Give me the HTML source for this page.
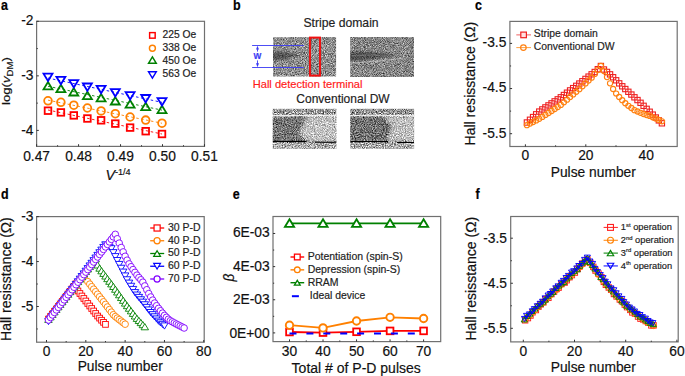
<!DOCTYPE html><html><head><meta charset="utf-8"><style>html,body{margin:0;padding:0;background:#fff;overflow:hidden}svg{display:block}</style></head><body><svg width="685" height="376" viewBox="0 0 685 376" font-family="Liberation Sans, sans-serif">
<rect width="685" height="376" fill="#fff"/>
<text transform="translate(0.9,9.8) scale(1,1.1)" font-size="12.5" text-anchor="start" fill="#000" stroke="#000" stroke-width="0.18" font-weight="bold">a</text>
<text transform="translate(232.9,9.6) scale(1,1.1)" font-size="12.5" text-anchor="start" fill="#000" stroke="#000" stroke-width="0.18" font-weight="bold">b</text>
<text transform="translate(475,9.7) scale(1,1.1)" font-size="12.5" text-anchor="start" fill="#000" stroke="#000" stroke-width="0.18" font-weight="bold">c</text>
<text transform="translate(1.1,199) scale(1,1.1)" font-size="12.5" text-anchor="start" fill="#000" stroke="#000" stroke-width="0.18" font-weight="bold">d</text>
<text transform="translate(232.8,199) scale(1,1.1)" font-size="12.5" text-anchor="start" fill="#000" stroke="#000" stroke-width="0.18" font-weight="bold">e</text>
<text transform="translate(475.5,198.8) scale(1,1.1)" font-size="12.5" text-anchor="start" fill="#000" stroke="#000" stroke-width="0.18" font-weight="bold">f</text>
<rect x="36.6" y="21.3" width="167.9" height="125.1" fill="none" stroke="#707070" stroke-width="1.2"/>
<line x1="36.6" y1="146.4" x2="36.6" y2="144.2" stroke="#333" stroke-width="1"/><line x1="78.57" y1="146.4" x2="78.57" y2="144.2" stroke="#333" stroke-width="1"/><line x1="120.54" y1="146.4" x2="120.54" y2="144.2" stroke="#333" stroke-width="1"/><line x1="162.51" y1="146.4" x2="162.51" y2="144.2" stroke="#333" stroke-width="1"/><line x1="204.48" y1="146.4" x2="204.48" y2="144.2" stroke="#333" stroke-width="1"/>
<line x1="57.59" y1="146.4" x2="57.59" y2="145.2" stroke="#333" stroke-width="1"/><line x1="99.56" y1="146.4" x2="99.56" y2="145.2" stroke="#333" stroke-width="1"/><line x1="141.53" y1="146.4" x2="141.53" y2="145.2" stroke="#333" stroke-width="1"/><line x1="183.5" y1="146.4" x2="183.5" y2="145.2" stroke="#333" stroke-width="1"/>
<line x1="36.6" y1="21.3" x2="38.8" y2="21.3" stroke="#333" stroke-width="1"/><line x1="36.6" y1="75.85" x2="38.8" y2="75.85" stroke="#333" stroke-width="1"/><line x1="36.6" y1="130.4" x2="38.8" y2="130.4" stroke="#333" stroke-width="1"/>
<line x1="36.6" y1="48.58" x2="37.8" y2="48.58" stroke="#333" stroke-width="1"/><line x1="36.6" y1="103.12" x2="37.8" y2="103.12" stroke="#333" stroke-width="1"/>
<text transform="translate(36.6,160.9) scale(1,1.03)" font-size="13.8" text-anchor="middle" fill="#111" stroke="#111" stroke-width="0.18" >0.47</text>
<text transform="translate(78.57,160.9) scale(1,1.03)" font-size="13.8" text-anchor="middle" fill="#111" stroke="#111" stroke-width="0.18" >0.48</text>
<text transform="translate(120.54,160.9) scale(1,1.03)" font-size="13.8" text-anchor="middle" fill="#111" stroke="#111" stroke-width="0.18" >0.49</text>
<text transform="translate(162.51,160.9) scale(1,1.03)" font-size="13.8" text-anchor="middle" fill="#111" stroke="#111" stroke-width="0.18" >0.50</text>
<text transform="translate(204.48,160.9) scale(1,1.03)" font-size="13.8" text-anchor="middle" fill="#111" stroke="#111" stroke-width="0.18" >0.51</text>
<text transform="translate(33.5,25.2) scale(1,1.03)" font-size="13.8" text-anchor="end" fill="#111" stroke="#111" stroke-width="0.18" >-2</text>
<text transform="translate(33.5,80.1) scale(1,1.03)" font-size="13.8" text-anchor="end" fill="#111" stroke="#111" stroke-width="0.18" >-3</text>
<text transform="translate(33.5,134.8) scale(1,1.03)" font-size="13.8" text-anchor="end" fill="#111" stroke="#111" stroke-width="0.18" >-4</text>
<line x1="48" y1="109.99" x2="162" y2="134.02" stroke="#ff0000" stroke-width="0.9" stroke-dasharray="2.5 2.5"/>
<line x1="48" y1="100.16" x2="162" y2="123.26" stroke="#ff8000" stroke-width="0.9" stroke-dasharray="2.5 2.5"/>
<line x1="48" y1="86.28" x2="162" y2="110.13" stroke="#008000" stroke-width="0.9" stroke-dasharray="2.5 2.5"/>
<line x1="48" y1="78.06" x2="162" y2="102.37" stroke="#0000ff" stroke-width="0.9" stroke-dasharray="2.5 2.5"/>
<rect x="44.7" y="107.4" width="6.6" height="6.6" fill="none" stroke="#ff0000" stroke-width="1.8"/>
<rect x="57.6" y="109.1" width="6.6" height="6.6" fill="none" stroke="#ff0000" stroke-width="1.8"/>
<rect x="70.5" y="112.1" width="6.6" height="6.6" fill="none" stroke="#ff0000" stroke-width="1.8"/>
<rect x="84.1" y="115.2" width="6.6" height="6.6" fill="none" stroke="#ff0000" stroke-width="1.8"/>
<rect x="97.8" y="117" width="6.6" height="6.6" fill="none" stroke="#ff0000" stroke-width="1.8"/>
<rect x="112" y="120.3" width="6.6" height="6.6" fill="none" stroke="#ff0000" stroke-width="1.8"/>
<rect x="126.8" y="124.3" width="6.6" height="6.6" fill="none" stroke="#ff0000" stroke-width="1.8"/>
<rect x="142.4" y="127.9" width="6.6" height="6.6" fill="none" stroke="#ff0000" stroke-width="1.8"/>
<rect x="158.7" y="130.7" width="6.6" height="6.6" fill="none" stroke="#ff0000" stroke-width="1.8"/>
<circle cx="48" cy="100.8" r="3.85" fill="none" stroke="#ff8000" stroke-width="1.8"/>
<circle cx="60.9" cy="102.3" r="3.85" fill="none" stroke="#ff8000" stroke-width="1.8"/>
<circle cx="73.8" cy="105.2" r="3.85" fill="none" stroke="#ff8000" stroke-width="1.8"/>
<circle cx="87.4" cy="108" r="3.85" fill="none" stroke="#ff8000" stroke-width="1.8"/>
<circle cx="101.1" cy="110.9" r="3.85" fill="none" stroke="#ff8000" stroke-width="1.8"/>
<circle cx="115.3" cy="113.7" r="3.85" fill="none" stroke="#ff8000" stroke-width="1.8"/>
<circle cx="130.1" cy="117" r="3.85" fill="none" stroke="#ff8000" stroke-width="1.8"/>
<circle cx="145.7" cy="120.1" r="3.85" fill="none" stroke="#ff8000" stroke-width="1.8"/>
<circle cx="162" cy="123.2" r="3.85" fill="none" stroke="#ff8000" stroke-width="1.8"/>
<path d="M48,81.91 L52.47,89.29 L43.53,89.29 Z" fill="none" stroke="#008000" stroke-width="1.8" stroke-linejoin="miter"/>
<path d="M60.9,84.81 L65.37,92.19 L56.43,92.19 Z" fill="none" stroke="#008000" stroke-width="1.8" stroke-linejoin="miter"/>
<path d="M73.8,88.11 L78.27,95.49 L69.33,95.49 Z" fill="none" stroke="#008000" stroke-width="1.8" stroke-linejoin="miter"/>
<path d="M87.4,91.71 L91.87,99.09 L82.93,99.09 Z" fill="none" stroke="#008000" stroke-width="1.8" stroke-linejoin="miter"/>
<path d="M101.1,94.01 L105.57,101.39 L96.63,101.39 Z" fill="none" stroke="#008000" stroke-width="1.8" stroke-linejoin="miter"/>
<path d="M115.3,97.11 L119.77,104.49 L110.83,104.49 Z" fill="none" stroke="#008000" stroke-width="1.8" stroke-linejoin="miter"/>
<path d="M130.1,100.21 L134.57,107.59 L125.63,107.59 Z" fill="none" stroke="#008000" stroke-width="1.8" stroke-linejoin="miter"/>
<path d="M145.7,102.71 L150.17,110.09 L141.23,110.09 Z" fill="none" stroke="#008000" stroke-width="1.8" stroke-linejoin="miter"/>
<path d="M162,105.71 L166.47,113.09 L157.53,113.09 Z" fill="none" stroke="#008000" stroke-width="1.8" stroke-linejoin="miter"/>
<path d="M48,81.09 L52.47,73.71 L43.53,73.71 Z" fill="none" stroke="#0000ff" stroke-width="1.8" stroke-linejoin="miter"/>
<path d="M60.9,84.19 L65.37,76.81 L56.43,76.81 Z" fill="none" stroke="#0000ff" stroke-width="1.8" stroke-linejoin="miter"/>
<path d="M73.8,87.49 L78.27,80.11 L69.33,80.11 Z" fill="none" stroke="#0000ff" stroke-width="1.8" stroke-linejoin="miter"/>
<path d="M87.4,90.89 L91.87,83.51 L82.93,83.51 Z" fill="none" stroke="#0000ff" stroke-width="1.8" stroke-linejoin="miter"/>
<path d="M101.1,93.19 L105.57,85.81 L96.63,85.81 Z" fill="none" stroke="#0000ff" stroke-width="1.8" stroke-linejoin="miter"/>
<path d="M115.3,96.49 L119.77,89.11 L110.83,89.11 Z" fill="none" stroke="#0000ff" stroke-width="1.8" stroke-linejoin="miter"/>
<path d="M130.1,99.49 L134.57,92.11 L125.63,92.11 Z" fill="none" stroke="#0000ff" stroke-width="1.8" stroke-linejoin="miter"/>
<path d="M145.7,102.39 L150.17,95.01 L141.23,95.01 Z" fill="none" stroke="#0000ff" stroke-width="1.8" stroke-linejoin="miter"/>
<path d="M162,105.49 L166.47,98.11 L157.53,98.11 Z" fill="none" stroke="#0000ff" stroke-width="1.8" stroke-linejoin="miter"/>
<rect x="149.62" y="32.62" width="5.55" height="5.55" fill="none" stroke="#ff0000" stroke-width="1.45"/>
<text transform="translate(162.6,38) scale(1,1.1)" font-size="10.3" text-anchor="start" fill="#222" stroke="#222" stroke-width="0.18" >225 Oe</text>
<circle cx="152.4" cy="48.3" r="2.98" fill="none" stroke="#ff8000" stroke-width="1.45"/>
<text transform="translate(162.6,51.1) scale(1,1.1)" font-size="10.3" text-anchor="start" fill="#222" stroke="#222" stroke-width="0.18" >338 Oe</text>
<path d="M152.4,56.9 L156.27,63.3 L148.53,63.3 Z" fill="none" stroke="#008000" stroke-width="1.45" stroke-linejoin="miter"/>
<text transform="translate(162.6,64.2) scale(1,1.1)" font-size="10.3" text-anchor="start" fill="#222" stroke="#222" stroke-width="0.18" >450 Oe</text>
<path d="M152.4,78.2 L156.27,71.8 L148.53,71.8 Z" fill="none" stroke="#0000ff" stroke-width="1.45" stroke-linejoin="miter"/>
<text transform="translate(162.6,77.3) scale(1,1.1)" font-size="10.3" text-anchor="start" fill="#222" stroke="#222" stroke-width="0.18" >563 Oe</text>
<text transform="translate(9.9,81) scale(1,1.12) rotate(-90)" font-size="11.8" text-anchor="middle" fill="#111" stroke="#111" stroke-width="0.18">log(<tspan font-style="italic">v</tspan><tspan font-size="8.6" dy="3.0">DM</tspan><tspan dy="-3.0">)</tspan></text>
<text x="105.4" y="179.7" font-size="14.3" fill="#111" stroke="#111" stroke-width="0.18"><tspan font-style="italic">V</tspan><tspan font-size="9.1" dy="-5">-1/4</tspan></text>
<defs><filter id="n1" x="0" y="0" width="1" height="1" color-interpolation-filters="sRGB"><feTurbulence type="fractalNoise" baseFrequency="1.1" numOctaves="2" seed="3"/><feColorMatrix type="matrix" values="1.05 0 0 0 0.03  1.05 0 0 0 0.03  1.05 0 0 0 0.03  0 0 0 0 1"/><feComposite in2="SourceAlpha" operator="in"/></filter><filter id="n2" x="0" y="0" width="1" height="1" color-interpolation-filters="sRGB"><feTurbulence type="fractalNoise" baseFrequency="1.1" numOctaves="2" seed="7"/><feColorMatrix type="matrix" values="1.05 0 0 0 0.0  1.05 0 0 0 0.0  1.05 0 0 0 0.0  0 0 0 0 1"/><feComposite in2="SourceAlpha" operator="in"/></filter><filter id="n3" x="0" y="0" width="1" height="1" color-interpolation-filters="sRGB"><feTurbulence type="fractalNoise" baseFrequency="0.9" numOctaves="2" seed="11"/><feColorMatrix type="matrix" values="1.6 0 0 0 -0.2  1.6 0 0 0 -0.2  1.6 0 0 0 -0.2  0 0 0 0 1"/><feComposite in2="SourceAlpha" operator="in"/></filter><filter id="n4" x="0" y="0" width="1" height="1" color-interpolation-filters="sRGB"><feTurbulence type="fractalNoise" baseFrequency="0.9" numOctaves="2" seed="5"/><feColorMatrix type="matrix" values="1.6 0 0 0 -0.22  1.6 0 0 0 -0.22  1.6 0 0 0 -0.22  0 0 0 0 1"/><feComposite in2="SourceAlpha" operator="in"/></filter><filter id="bl1" x="-50%" y="-50%" width="200%" height="200%"><feGaussianBlur stdDeviation="1.6"/></filter><filter id="bl2" x="-50%" y="-50%" width="200%" height="200%"><feGaussianBlur stdDeviation="0.8"/></filter><filter id="bl3" x="-50%" y="-50%" width="200%" height="200%"><feGaussianBlur stdDeviation="0.9"/></filter><clipPath id="c3"><rect x="272.7" y="108.8" width="63.7" height="40.1"/></clipPath><clipPath id="c4"><rect x="350.2" y="108.8" width="63.9" height="40.1"/></clipPath><clipPath id="c1"><rect x="273" y="37.1" width="63.1" height="39.4"/></clipPath><clipPath id="c2"><rect x="350.2" y="37" width="63.8" height="40"/></clipPath></defs>
<rect x="273" y="37.1" width="63.1" height="39.4" fill="#000" filter="url(#n1)"/>
<rect x="350.2" y="37" width="63.8" height="40" fill="#000" filter="url(#n2)"/>
<rect x="272.7" y="108.8" width="63.7" height="40.1" fill="#000" filter="url(#n3)"/>
<rect x="350.2" y="108.8" width="63.9" height="40.1" fill="#000" filter="url(#n4)"/>
<g clip-path="url(#c1)"><path d="M272,52 C280,50.5 290,52 299,55.5 C290,58.5 280,60 272,60 Z" fill="#1a1a1a" opacity="0.5" filter="url(#bl3)"/></g>
<g clip-path="url(#c2)"><path d="M349,52 C362,51 380,52.5 397,54.8 C384,57.5 366,60.5 349,61 Z" fill="#1a1a1a" opacity="0.5" filter="url(#bl2)"/><path d="M352,55.5 C365,55 378,55.2 390,55.3" stroke="#aaa" stroke-width="1" fill="none" opacity="0.35"/><path d="M352,63 C370,62 390,60 405,58" stroke="#ddd" stroke-width="1.2" fill="none" opacity="0.5"/></g>
<g clip-path="url(#c3)"><path d="M272,116.5 L310,116.5 L303,126 L298,134 L306,141 L272,141 Z" fill="#1a1a1a" opacity="0.3" filter="url(#bl1)"/><path d="M306,116.5 L337,116.5 L337,141 L308,141 L300,134 Z" fill="#fff" opacity="0.4" filter="url(#bl1)"/><rect x="272" y="143" width="66" height="7" fill="#fff" opacity="0.2"/><rect x="272" y="114.8" width="66" height="1.5" fill="#fff" opacity="0.85"/><line x1="272.7" y1="141.4" x2="306.5" y2="141.4" stroke="#000" stroke-width="1.1"/><line x1="315" y1="142.3" x2="336.4" y2="142.3" stroke="#000" stroke-width="1.1"/></g>
<g clip-path="url(#c4)"><path d="M350,116.5 L384,116.5 L392,127 L386,137 L388,141 L350,141 Z" fill="#1a1a1a" opacity="0.3" filter="url(#bl1)"/><path d="M384,116.5 L415,116.5 L415,141 L388,141 L392,127 Z" fill="#fff" opacity="0.4" filter="url(#bl1)"/><rect x="350" y="143" width="66" height="7" fill="#fff" opacity="0.2"/><rect x="350" y="114.8" width="66" height="1.5" fill="#fff" opacity="0.8"/><line x1="350.2" y1="141.5" x2="388" y2="141.5" stroke="#000" stroke-width="1.1"/><line x1="397" y1="142.5" x2="414.1" y2="142.5" stroke="#000" stroke-width="1.1"/></g>
<rect x="310" y="37.6" width="10" height="38" fill="none" stroke="#f01010" stroke-width="2"/>
<line x1="252.1" y1="45.5" x2="303.8" y2="45.5" stroke="#3a3af4" stroke-width="0.9"/>
<line x1="252.1" y1="67.5" x2="303.8" y2="67.5" stroke="#3a3af4" stroke-width="0.9"/>
<line x1="257.5" y1="48" x2="257.5" y2="51.6" stroke="#3a3af4" stroke-width="0.9"/>
<line x1="257.5" y1="60.4" x2="257.5" y2="64" stroke="#3a3af4" stroke-width="0.9"/>
<path d="M256,49.6 L257.5,45.7 L259,49.6 Z M256,63.2 L257.5,67.3 L259,63.2 Z" fill="#3a3af4"/>
<text transform="translate(257.5,59.2) scale(1,0.98)" font-size="8.3" text-anchor="middle" fill="#3a3af4" stroke="#3a3af4" stroke-width="0.18" font-weight="bold">W</text>
<text transform="translate(303.4,27) scale(1,1.03)" font-size="12.2" text-anchor="start" fill="#222" stroke="#222" stroke-width="0.18" >Stripe domain</text>
<text transform="translate(252.7,88.3) scale(1,0.92)" font-size="11.1" text-anchor="start" fill="#ff1a1a" stroke="#ff1a1a" stroke-width="0.18" >Hall detection terminal</text>
<text transform="translate(296.3,103) scale(1,1.03)" font-size="12" text-anchor="start" fill="#222" stroke="#222" stroke-width="0.18" >Conventional DW</text>
<rect x="509.9" y="21.4" width="167.3" height="125.1" fill="none" stroke="#707070" stroke-width="1.2"/>
<line x1="525.4" y1="146.5" x2="525.4" y2="144.3" stroke="#333" stroke-width="1"/><line x1="585.8" y1="146.5" x2="585.8" y2="144.3" stroke="#333" stroke-width="1"/><line x1="646.2" y1="146.5" x2="646.2" y2="144.3" stroke="#333" stroke-width="1"/>
<line x1="555.6" y1="146.5" x2="555.6" y2="145.3" stroke="#333" stroke-width="1"/><line x1="616" y1="146.5" x2="616" y2="145.3" stroke="#333" stroke-width="1"/>
<line x1="509.9" y1="43.4" x2="512.1" y2="43.4" stroke="#333" stroke-width="1"/><line x1="509.9" y1="88.55" x2="512.1" y2="88.55" stroke="#333" stroke-width="1"/><line x1="509.9" y1="133.7" x2="512.1" y2="133.7" stroke="#333" stroke-width="1"/>
<line x1="509.9" y1="65.97" x2="511.1" y2="65.97" stroke="#333" stroke-width="1"/><line x1="509.9" y1="111.12" x2="511.1" y2="111.12" stroke="#333" stroke-width="1"/>
<text transform="translate(525.4,160.4) scale(1,1.03)" font-size="13.8" text-anchor="middle" fill="#111" stroke="#111" stroke-width="0.18" >0</text>
<text transform="translate(585.8,160.4) scale(1,1.03)" font-size="13.8" text-anchor="middle" fill="#111" stroke="#111" stroke-width="0.18" >20</text>
<text transform="translate(646.2,160.4) scale(1,1.03)" font-size="13.8" text-anchor="middle" fill="#111" stroke="#111" stroke-width="0.18" >40</text>
<text transform="translate(506.3,47.3) scale(1,1.03)" font-size="13.8" text-anchor="end" fill="#111" stroke="#111" stroke-width="0.18" >-3.5</text>
<text transform="translate(506.3,92.45) scale(1,1.03)" font-size="13.8" text-anchor="end" fill="#111" stroke="#111" stroke-width="0.18" >-4.5</text>
<text transform="translate(506.3,137.6) scale(1,1.03)" font-size="13.8" text-anchor="end" fill="#111" stroke="#111" stroke-width="0.18" >-5.5</text>
<text transform="translate(474.5,83.6) scale(1,1.02) rotate(-90)" font-size="13.8" text-anchor="middle" fill="#111" stroke="#111" stroke-width="0.18">Hall resisstance (<tspan font-size="14.8">Ω</tspan>)</text>
<text transform="translate(593.3,176.7) scale(1,1.0)" font-size="13.8" text-anchor="middle" fill="#111" stroke="#111" stroke-width="0.18" >Pulse number</text>
<rect x="524.26" y="119.85" width="5.3" height="5.3" fill="none" stroke="#ee2020" stroke-width="1.1"/>
<rect x="527.34" y="117.12" width="5.3" height="5.3" fill="none" stroke="#ee2020" stroke-width="1.1"/>
<rect x="530.43" y="114.39" width="5.3" height="5.3" fill="none" stroke="#ee2020" stroke-width="1.1"/>
<rect x="533.51" y="111.66" width="5.3" height="5.3" fill="none" stroke="#ee2020" stroke-width="1.1"/>
<rect x="536.59" y="108.93" width="5.3" height="5.3" fill="none" stroke="#ee2020" stroke-width="1.1"/>
<rect x="539.67" y="106.77" width="5.3" height="5.3" fill="none" stroke="#ee2020" stroke-width="1.1"/>
<rect x="542.76" y="104.75" width="5.3" height="5.3" fill="none" stroke="#ee2020" stroke-width="1.1"/>
<rect x="545.84" y="102.74" width="5.3" height="5.3" fill="none" stroke="#ee2020" stroke-width="1.1"/>
<rect x="548.92" y="100.73" width="5.3" height="5.3" fill="none" stroke="#ee2020" stroke-width="1.1"/>
<rect x="552.01" y="98.72" width="5.3" height="5.3" fill="none" stroke="#ee2020" stroke-width="1.1"/>
<rect x="555.09" y="96.71" width="5.3" height="5.3" fill="none" stroke="#ee2020" stroke-width="1.1"/>
<rect x="558.17" y="94.64" width="5.3" height="5.3" fill="none" stroke="#ee2020" stroke-width="1.1"/>
<rect x="561.25" y="92.35" width="5.3" height="5.3" fill="none" stroke="#ee2020" stroke-width="1.1"/>
<rect x="564.34" y="90.06" width="5.3" height="5.3" fill="none" stroke="#ee2020" stroke-width="1.1"/>
<rect x="567.42" y="87.77" width="5.3" height="5.3" fill="none" stroke="#ee2020" stroke-width="1.1"/>
<rect x="570.5" y="85.48" width="5.3" height="5.3" fill="none" stroke="#ee2020" stroke-width="1.1"/>
<rect x="573.59" y="83.19" width="5.3" height="5.3" fill="none" stroke="#ee2020" stroke-width="1.1"/>
<rect x="576.67" y="80.9" width="5.3" height="5.3" fill="none" stroke="#ee2020" stroke-width="1.1"/>
<rect x="579.75" y="78.6" width="5.3" height="5.3" fill="none" stroke="#ee2020" stroke-width="1.1"/>
<rect x="582.84" y="76.28" width="5.3" height="5.3" fill="none" stroke="#ee2020" stroke-width="1.1"/>
<rect x="585.92" y="73.97" width="5.3" height="5.3" fill="none" stroke="#ee2020" stroke-width="1.1"/>
<rect x="589" y="71.66" width="5.3" height="5.3" fill="none" stroke="#ee2020" stroke-width="1.1"/>
<rect x="592.08" y="69.35" width="5.3" height="5.3" fill="none" stroke="#ee2020" stroke-width="1.1"/>
<rect x="595.17" y="66.54" width="5.3" height="5.3" fill="none" stroke="#ee2020" stroke-width="1.1"/>
<rect x="598.25" y="63.35" width="5.3" height="5.3" fill="none" stroke="#ee2020" stroke-width="1.1"/>
<rect x="601.3" y="66.87" width="5.3" height="5.3" fill="none" stroke="#ee2020" stroke-width="1.1"/>
<rect x="604.35" y="69.29" width="5.3" height="5.3" fill="none" stroke="#ee2020" stroke-width="1.1"/>
<rect x="607.4" y="71.7" width="5.3" height="5.3" fill="none" stroke="#ee2020" stroke-width="1.1"/>
<rect x="610.45" y="74.59" width="5.3" height="5.3" fill="none" stroke="#ee2020" stroke-width="1.1"/>
<rect x="613.5" y="77.65" width="5.3" height="5.3" fill="none" stroke="#ee2020" stroke-width="1.1"/>
<rect x="616.55" y="80.71" width="5.3" height="5.3" fill="none" stroke="#ee2020" stroke-width="1.1"/>
<rect x="619.6" y="83.63" width="5.3" height="5.3" fill="none" stroke="#ee2020" stroke-width="1.1"/>
<rect x="622.65" y="86.39" width="5.3" height="5.3" fill="none" stroke="#ee2020" stroke-width="1.1"/>
<rect x="625.7" y="89.14" width="5.3" height="5.3" fill="none" stroke="#ee2020" stroke-width="1.1"/>
<rect x="628.75" y="91.9" width="5.3" height="5.3" fill="none" stroke="#ee2020" stroke-width="1.1"/>
<rect x="631.8" y="94.65" width="5.3" height="5.3" fill="none" stroke="#ee2020" stroke-width="1.1"/>
<rect x="634.85" y="97.4" width="5.3" height="5.3" fill="none" stroke="#ee2020" stroke-width="1.1"/>
<rect x="637.9" y="100.16" width="5.3" height="5.3" fill="none" stroke="#ee2020" stroke-width="1.1"/>
<rect x="640.95" y="103.17" width="5.3" height="5.3" fill="none" stroke="#ee2020" stroke-width="1.1"/>
<rect x="644" y="106.2" width="5.3" height="5.3" fill="none" stroke="#ee2020" stroke-width="1.1"/>
<rect x="647.05" y="109.1" width="5.3" height="5.3" fill="none" stroke="#ee2020" stroke-width="1.1"/>
<rect x="650.1" y="111.98" width="5.3" height="5.3" fill="none" stroke="#ee2020" stroke-width="1.1"/>
<rect x="653.15" y="114.87" width="5.3" height="5.3" fill="none" stroke="#ee2020" stroke-width="1.1"/>
<rect x="656.2" y="117.76" width="5.3" height="5.3" fill="none" stroke="#ee2020" stroke-width="1.1"/>
<rect x="659.25" y="120.65" width="5.3" height="5.3" fill="none" stroke="#ee2020" stroke-width="1.1"/>
<circle cx="526.91" cy="125.2" r="2.6" fill="none" stroke="#ff8010" stroke-width="1.1"/>
<circle cx="529.99" cy="123.61" r="2.6" fill="none" stroke="#ff8010" stroke-width="1.1"/>
<circle cx="533.08" cy="122.02" r="2.6" fill="none" stroke="#ff8010" stroke-width="1.1"/>
<circle cx="536.16" cy="120.43" r="2.6" fill="none" stroke="#ff8010" stroke-width="1.1"/>
<circle cx="539.24" cy="118.84" r="2.6" fill="none" stroke="#ff8010" stroke-width="1.1"/>
<circle cx="542.32" cy="116.94" r="2.6" fill="none" stroke="#ff8010" stroke-width="1.1"/>
<circle cx="545.41" cy="114.96" r="2.6" fill="none" stroke="#ff8010" stroke-width="1.1"/>
<circle cx="548.49" cy="112.98" r="2.6" fill="none" stroke="#ff8010" stroke-width="1.1"/>
<circle cx="551.57" cy="111" r="2.6" fill="none" stroke="#ff8010" stroke-width="1.1"/>
<circle cx="554.66" cy="109.02" r="2.6" fill="none" stroke="#ff8010" stroke-width="1.1"/>
<circle cx="557.74" cy="107.04" r="2.6" fill="none" stroke="#ff8010" stroke-width="1.1"/>
<circle cx="560.82" cy="104.91" r="2.6" fill="none" stroke="#ff8010" stroke-width="1.1"/>
<circle cx="563.9" cy="102.28" r="2.6" fill="none" stroke="#ff8010" stroke-width="1.1"/>
<circle cx="566.99" cy="99.65" r="2.6" fill="none" stroke="#ff8010" stroke-width="1.1"/>
<circle cx="570.07" cy="97.02" r="2.6" fill="none" stroke="#ff8010" stroke-width="1.1"/>
<circle cx="573.15" cy="94.39" r="2.6" fill="none" stroke="#ff8010" stroke-width="1.1"/>
<circle cx="576.24" cy="91.76" r="2.6" fill="none" stroke="#ff8010" stroke-width="1.1"/>
<circle cx="579.32" cy="89.13" r="2.6" fill="none" stroke="#ff8010" stroke-width="1.1"/>
<circle cx="582.4" cy="86.31" r="2.6" fill="none" stroke="#ff8010" stroke-width="1.1"/>
<circle cx="585.49" cy="83.43" r="2.6" fill="none" stroke="#ff8010" stroke-width="1.1"/>
<circle cx="588.57" cy="80.56" r="2.6" fill="none" stroke="#ff8010" stroke-width="1.1"/>
<circle cx="591.65" cy="77.68" r="2.6" fill="none" stroke="#ff8010" stroke-width="1.1"/>
<circle cx="594.73" cy="73.91" r="2.6" fill="none" stroke="#ff8010" stroke-width="1.1"/>
<circle cx="597.82" cy="70.08" r="2.6" fill="none" stroke="#ff8010" stroke-width="1.1"/>
<circle cx="600.9" cy="66" r="2.6" fill="none" stroke="#ff8010" stroke-width="1.1"/>
<circle cx="603.95" cy="71.06" r="2.6" fill="none" stroke="#ff8010" stroke-width="1.1"/>
<circle cx="607" cy="77.12" r="2.6" fill="none" stroke="#ff8010" stroke-width="1.1"/>
<circle cx="610.05" cy="83.34" r="2.6" fill="none" stroke="#ff8010" stroke-width="1.1"/>
<circle cx="613.1" cy="88.98" r="2.6" fill="none" stroke="#ff8010" stroke-width="1.1"/>
<circle cx="616.15" cy="93.54" r="2.6" fill="none" stroke="#ff8010" stroke-width="1.1"/>
<circle cx="619.2" cy="96.99" r="2.6" fill="none" stroke="#ff8010" stroke-width="1.1"/>
<circle cx="622.25" cy="100.21" r="2.6" fill="none" stroke="#ff8010" stroke-width="1.1"/>
<circle cx="625.3" cy="103.24" r="2.6" fill="none" stroke="#ff8010" stroke-width="1.1"/>
<circle cx="628.35" cy="105.8" r="2.6" fill="none" stroke="#ff8010" stroke-width="1.1"/>
<circle cx="631.4" cy="108.02" r="2.6" fill="none" stroke="#ff8010" stroke-width="1.1"/>
<circle cx="634.45" cy="110.15" r="2.6" fill="none" stroke="#ff8010" stroke-width="1.1"/>
<circle cx="637.5" cy="111.51" r="2.6" fill="none" stroke="#ff8010" stroke-width="1.1"/>
<circle cx="640.55" cy="112.87" r="2.6" fill="none" stroke="#ff8010" stroke-width="1.1"/>
<circle cx="643.6" cy="114.02" r="2.6" fill="none" stroke="#ff8010" stroke-width="1.1"/>
<circle cx="646.65" cy="114.99" r="2.6" fill="none" stroke="#ff8010" stroke-width="1.1"/>
<circle cx="649.7" cy="115.96" r="2.6" fill="none" stroke="#ff8010" stroke-width="1.1"/>
<circle cx="652.75" cy="117.29" r="2.6" fill="none" stroke="#ff8010" stroke-width="1.1"/>
<circle cx="655.8" cy="118.62" r="2.6" fill="none" stroke="#ff8010" stroke-width="1.1"/>
<circle cx="658.85" cy="119.96" r="2.6" fill="none" stroke="#ff8010" stroke-width="1.1"/>
<circle cx="661.9" cy="121.3" r="2.6" fill="none" stroke="#ff8010" stroke-width="1.1"/>
<line x1="516.3" y1="34.9" x2="531" y2="34.9" stroke="#f06060" stroke-width="1"/>
<rect x="520.8" y="32.1" width="5.6" height="5.6" fill="#ffe0e0" stroke="#ee2020" stroke-width="1.2"/>
<line x1="516.3" y1="47.6" x2="531" y2="47.6" stroke="#ffa040" stroke-width="1"/>
<circle cx="523.4" cy="47.6" r="2.8" fill="none" stroke="#ff8010" stroke-width="1.2"/>
<text transform="translate(533.7,36.9) scale(1,1.03)" font-size="10.4" text-anchor="start" fill="#222" stroke="#222" stroke-width="0.18" >Stripe domain</text>
<text transform="translate(533.7,49.6) scale(1,1.03)" font-size="10.4" text-anchor="start" fill="#222" stroke="#222" stroke-width="0.18" >Conventional DW</text>
<rect x="36.6" y="216.6" width="167.6" height="125.6" fill="none" stroke="#707070" stroke-width="1.2"/>
<line x1="46.5" y1="342.2" x2="46.5" y2="340" stroke="#333" stroke-width="1"/><line x1="85.82" y1="342.2" x2="85.82" y2="340" stroke="#333" stroke-width="1"/><line x1="125.14" y1="342.2" x2="125.14" y2="340" stroke="#333" stroke-width="1"/><line x1="164.46" y1="342.2" x2="164.46" y2="340" stroke="#333" stroke-width="1"/><line x1="203.78" y1="342.2" x2="203.78" y2="340" stroke="#333" stroke-width="1"/>
<line x1="66.16" y1="342.2" x2="66.16" y2="341" stroke="#333" stroke-width="1"/><line x1="105.48" y1="342.2" x2="105.48" y2="341" stroke="#333" stroke-width="1"/><line x1="144.8" y1="342.2" x2="144.8" y2="341" stroke="#333" stroke-width="1"/><line x1="184.12" y1="342.2" x2="184.12" y2="341" stroke="#333" stroke-width="1"/>
<line x1="36.6" y1="216.6" x2="38.8" y2="216.6" stroke="#333" stroke-width="1"/><line x1="36.6" y1="261.55" x2="38.8" y2="261.55" stroke="#333" stroke-width="1"/><line x1="36.6" y1="306.5" x2="38.8" y2="306.5" stroke="#333" stroke-width="1"/>
<line x1="36.6" y1="239.07" x2="37.8" y2="239.07" stroke="#333" stroke-width="1"/><line x1="36.6" y1="284.02" x2="37.8" y2="284.02" stroke="#333" stroke-width="1"/><line x1="36.6" y1="328.98" x2="37.8" y2="328.98" stroke="#333" stroke-width="1"/>
<text transform="translate(46.5,355.8) scale(1,1.03)" font-size="13.8" text-anchor="middle" fill="#111" stroke="#111" stroke-width="0.18" >0</text>
<text transform="translate(85.82,355.8) scale(1,1.03)" font-size="13.8" text-anchor="middle" fill="#111" stroke="#111" stroke-width="0.18" >20</text>
<text transform="translate(125.14,355.8) scale(1,1.03)" font-size="13.8" text-anchor="middle" fill="#111" stroke="#111" stroke-width="0.18" >40</text>
<text transform="translate(164.46,355.8) scale(1,1.03)" font-size="13.8" text-anchor="middle" fill="#111" stroke="#111" stroke-width="0.18" >60</text>
<text transform="translate(203.78,355.8) scale(1,1.03)" font-size="13.8" text-anchor="middle" fill="#111" stroke="#111" stroke-width="0.18" >80</text>
<text transform="translate(33.5,220.6) scale(1,1.03)" font-size="13.8" text-anchor="end" fill="#111" stroke="#111" stroke-width="0.18" >-3</text>
<text transform="translate(33.5,265.55) scale(1,1.03)" font-size="13.8" text-anchor="end" fill="#111" stroke="#111" stroke-width="0.18" >-4</text>
<text transform="translate(33.5,310.5) scale(1,1.03)" font-size="13.8" text-anchor="end" fill="#111" stroke="#111" stroke-width="0.18" >-5</text>
<text transform="translate(11.4,279.1) scale(1,1.02) rotate(-90)" font-size="13.8" text-anchor="middle" fill="#111" stroke="#111" stroke-width="0.18">Hall resisstance (<tspan font-size="14.8">Ω</tspan>)</text>
<text transform="translate(120.2,370.8) scale(1,1.0)" font-size="13.8" text-anchor="middle" fill="#111" stroke="#111" stroke-width="0.18" >Pulse number</text>
<polyline points="48.47,319.1 50.43,316.58 52.4,314.06 54.36,311.54 56.33,309.02 58.3,306.5 60.26,303.98 62.23,301.46 64.19,298.94 66.16,296.42 68.13,293.9 70.09,291.38 72.06,288.86 74.02,286.34 75.99,283.82 77.96,291 79.92,293.5 81.89,296 83.85,298.5 85.82,301 87.79,303.5 89.75,306 91.72,308.5 93.68,311 95.65,313.5 97.62,316 99.58,318.1 101.55,320.2 103.51,322.3 105.48,324.4" fill="none" stroke="#ff0000" stroke-width="0.8"/>
<rect x="45.62" y="316.25" width="5.7" height="5.7" fill="#fff" stroke="#ff0000" stroke-width="0.9"/>
<rect x="47.58" y="313.73" width="5.7" height="5.7" fill="#fff" stroke="#ff0000" stroke-width="0.9"/>
<rect x="49.55" y="311.21" width="5.7" height="5.7" fill="#fff" stroke="#ff0000" stroke-width="0.9"/>
<rect x="51.51" y="308.69" width="5.7" height="5.7" fill="#fff" stroke="#ff0000" stroke-width="0.9"/>
<rect x="53.48" y="306.17" width="5.7" height="5.7" fill="#fff" stroke="#ff0000" stroke-width="0.9"/>
<rect x="55.45" y="303.65" width="5.7" height="5.7" fill="#fff" stroke="#ff0000" stroke-width="0.9"/>
<rect x="57.41" y="301.13" width="5.7" height="5.7" fill="#fff" stroke="#ff0000" stroke-width="0.9"/>
<rect x="59.38" y="298.61" width="5.7" height="5.7" fill="#fff" stroke="#ff0000" stroke-width="0.9"/>
<rect x="61.34" y="296.09" width="5.7" height="5.7" fill="#fff" stroke="#ff0000" stroke-width="0.9"/>
<rect x="63.31" y="293.57" width="5.7" height="5.7" fill="#fff" stroke="#ff0000" stroke-width="0.9"/>
<rect x="65.28" y="291.05" width="5.7" height="5.7" fill="#fff" stroke="#ff0000" stroke-width="0.9"/>
<rect x="67.24" y="288.53" width="5.7" height="5.7" fill="#fff" stroke="#ff0000" stroke-width="0.9"/>
<rect x="69.21" y="286.01" width="5.7" height="5.7" fill="#fff" stroke="#ff0000" stroke-width="0.9"/>
<rect x="71.17" y="283.49" width="5.7" height="5.7" fill="#fff" stroke="#ff0000" stroke-width="0.9"/>
<rect x="73.14" y="280.97" width="5.7" height="5.7" fill="#fff" stroke="#ff0000" stroke-width="0.9"/>
<rect x="75.11" y="288.15" width="5.7" height="5.7" fill="#fff" stroke="#ff0000" stroke-width="0.9"/>
<rect x="77.07" y="290.65" width="5.7" height="5.7" fill="#fff" stroke="#ff0000" stroke-width="0.9"/>
<rect x="79.04" y="293.15" width="5.7" height="5.7" fill="#fff" stroke="#ff0000" stroke-width="0.9"/>
<rect x="81" y="295.65" width="5.7" height="5.7" fill="#fff" stroke="#ff0000" stroke-width="0.9"/>
<rect x="82.97" y="298.15" width="5.7" height="5.7" fill="#fff" stroke="#ff0000" stroke-width="0.9"/>
<rect x="84.94" y="300.65" width="5.7" height="5.7" fill="#fff" stroke="#ff0000" stroke-width="0.9"/>
<rect x="86.9" y="303.15" width="5.7" height="5.7" fill="#fff" stroke="#ff0000" stroke-width="0.9"/>
<rect x="88.87" y="305.65" width="5.7" height="5.7" fill="#fff" stroke="#ff0000" stroke-width="0.9"/>
<rect x="90.83" y="308.15" width="5.7" height="5.7" fill="#fff" stroke="#ff0000" stroke-width="0.9"/>
<rect x="92.8" y="310.65" width="5.7" height="5.7" fill="#fff" stroke="#ff0000" stroke-width="0.9"/>
<rect x="94.77" y="313.15" width="5.7" height="5.7" fill="#fff" stroke="#ff0000" stroke-width="0.9"/>
<rect x="96.73" y="315.25" width="5.7" height="5.7" fill="#fff" stroke="#ff0000" stroke-width="0.9"/>
<rect x="98.7" y="317.35" width="5.7" height="5.7" fill="#fff" stroke="#ff0000" stroke-width="0.9"/>
<rect x="100.66" y="319.45" width="5.7" height="5.7" fill="#fff" stroke="#ff0000" stroke-width="0.9"/>
<rect x="102.63" y="321.55" width="5.7" height="5.7" fill="#fff" stroke="#ff0000" stroke-width="0.9"/>
<polyline points="48.47,319.5 50.43,316.98 52.4,314.46 54.36,311.94 56.33,309.42 58.3,306.9 60.26,304.38 62.23,301.86 64.19,299.34 66.16,296.82 68.13,294.3 70.09,291.78 72.06,289.26 74.02,286.74 75.99,284.22 77.96,281.7 79.92,279.18 81.89,276.66 83.85,274.14 85.82,271.62 87.79,281.6 89.75,284.13 91.72,286.65 93.68,289.18 95.65,291.71 97.62,294.23 99.58,296.76 101.55,299.28 103.51,301.83 105.48,304.41 107.45,306.99 109.41,309.57 111.38,312.15 113.34,314.73 115.31,316.57 117.28,318.09 119.24,319.62 121.21,321.15 123.17,322.67 125.14,324.2" fill="none" stroke="#ff8000" stroke-width="0.8"/>
<circle cx="48.47" cy="319.5" r="3.3" fill="#fff" stroke="#ff8000" stroke-width="0.9"/>
<circle cx="50.43" cy="316.98" r="3.3" fill="#fff" stroke="#ff8000" stroke-width="0.9"/>
<circle cx="52.4" cy="314.46" r="3.3" fill="#fff" stroke="#ff8000" stroke-width="0.9"/>
<circle cx="54.36" cy="311.94" r="3.3" fill="#fff" stroke="#ff8000" stroke-width="0.9"/>
<circle cx="56.33" cy="309.42" r="3.3" fill="#fff" stroke="#ff8000" stroke-width="0.9"/>
<circle cx="58.3" cy="306.9" r="3.3" fill="#fff" stroke="#ff8000" stroke-width="0.9"/>
<circle cx="60.26" cy="304.38" r="3.3" fill="#fff" stroke="#ff8000" stroke-width="0.9"/>
<circle cx="62.23" cy="301.86" r="3.3" fill="#fff" stroke="#ff8000" stroke-width="0.9"/>
<circle cx="64.19" cy="299.34" r="3.3" fill="#fff" stroke="#ff8000" stroke-width="0.9"/>
<circle cx="66.16" cy="296.82" r="3.3" fill="#fff" stroke="#ff8000" stroke-width="0.9"/>
<circle cx="68.13" cy="294.3" r="3.3" fill="#fff" stroke="#ff8000" stroke-width="0.9"/>
<circle cx="70.09" cy="291.78" r="3.3" fill="#fff" stroke="#ff8000" stroke-width="0.9"/>
<circle cx="72.06" cy="289.26" r="3.3" fill="#fff" stroke="#ff8000" stroke-width="0.9"/>
<circle cx="74.02" cy="286.74" r="3.3" fill="#fff" stroke="#ff8000" stroke-width="0.9"/>
<circle cx="75.99" cy="284.22" r="3.3" fill="#fff" stroke="#ff8000" stroke-width="0.9"/>
<circle cx="77.96" cy="281.7" r="3.3" fill="#fff" stroke="#ff8000" stroke-width="0.9"/>
<circle cx="79.92" cy="279.18" r="3.3" fill="#fff" stroke="#ff8000" stroke-width="0.9"/>
<circle cx="81.89" cy="276.66" r="3.3" fill="#fff" stroke="#ff8000" stroke-width="0.9"/>
<circle cx="83.85" cy="274.14" r="3.3" fill="#fff" stroke="#ff8000" stroke-width="0.9"/>
<circle cx="85.82" cy="271.62" r="3.3" fill="#fff" stroke="#ff8000" stroke-width="0.9"/>
<circle cx="87.79" cy="281.6" r="3.3" fill="#fff" stroke="#ff8000" stroke-width="0.9"/>
<circle cx="89.75" cy="284.13" r="3.3" fill="#fff" stroke="#ff8000" stroke-width="0.9"/>
<circle cx="91.72" cy="286.65" r="3.3" fill="#fff" stroke="#ff8000" stroke-width="0.9"/>
<circle cx="93.68" cy="289.18" r="3.3" fill="#fff" stroke="#ff8000" stroke-width="0.9"/>
<circle cx="95.65" cy="291.71" r="3.3" fill="#fff" stroke="#ff8000" stroke-width="0.9"/>
<circle cx="97.62" cy="294.23" r="3.3" fill="#fff" stroke="#ff8000" stroke-width="0.9"/>
<circle cx="99.58" cy="296.76" r="3.3" fill="#fff" stroke="#ff8000" stroke-width="0.9"/>
<circle cx="101.55" cy="299.28" r="3.3" fill="#fff" stroke="#ff8000" stroke-width="0.9"/>
<circle cx="103.51" cy="301.83" r="3.3" fill="#fff" stroke="#ff8000" stroke-width="0.9"/>
<circle cx="105.48" cy="304.41" r="3.3" fill="#fff" stroke="#ff8000" stroke-width="0.9"/>
<circle cx="107.45" cy="306.99" r="3.3" fill="#fff" stroke="#ff8000" stroke-width="0.9"/>
<circle cx="109.41" cy="309.57" r="3.3" fill="#fff" stroke="#ff8000" stroke-width="0.9"/>
<circle cx="111.38" cy="312.15" r="3.3" fill="#fff" stroke="#ff8000" stroke-width="0.9"/>
<circle cx="113.34" cy="314.73" r="3.3" fill="#fff" stroke="#ff8000" stroke-width="0.9"/>
<circle cx="115.31" cy="316.57" r="3.3" fill="#fff" stroke="#ff8000" stroke-width="0.9"/>
<circle cx="117.28" cy="318.09" r="3.3" fill="#fff" stroke="#ff8000" stroke-width="0.9"/>
<circle cx="119.24" cy="319.62" r="3.3" fill="#fff" stroke="#ff8000" stroke-width="0.9"/>
<circle cx="121.21" cy="321.15" r="3.3" fill="#fff" stroke="#ff8000" stroke-width="0.9"/>
<circle cx="123.17" cy="322.67" r="3.3" fill="#fff" stroke="#ff8000" stroke-width="0.9"/>
<circle cx="125.14" cy="324.2" r="3.3" fill="#fff" stroke="#ff8000" stroke-width="0.9"/>
<polyline points="48.47,319.3 50.43,316.78 52.4,314.26 54.36,311.74 56.33,309.22 58.3,306.7 60.26,304.18 62.23,301.66 64.19,299.14 66.16,296.62 68.13,294.1 70.09,291.58 72.06,289.06 74.02,286.54 75.99,284.02 77.96,281.5 79.92,278.98 81.89,276.46 83.85,273.94 85.82,271.42 87.79,268.9 89.75,266.38 91.72,263.86 93.68,261.34 95.65,258.82 97.62,264.92 99.58,268.09 101.55,270.71 103.51,273.33 105.48,275.95 107.45,278.56 109.41,281.18 111.38,283.8 113.34,286.41 115.31,289.14 117.28,291.91 119.24,294.68 121.21,297.46 123.17,300.23 125.14,303 127.11,305.58 129.07,308.16 131.04,310.74 133,313.32 134.97,315.89 136.94,318.33 138.9,320.42 140.87,322.51 142.83,324.61 144.8,326.7" fill="none" stroke="#008000" stroke-width="0.8"/>
<path d="M48.47,316.19 L52.2,322.41 L44.73,322.41 Z" fill="#fff" stroke="#008000" stroke-width="0.9" stroke-linejoin="miter"/>
<path d="M50.43,313.68 L54.17,319.89 L46.7,319.89 Z" fill="#fff" stroke="#008000" stroke-width="0.9" stroke-linejoin="miter"/>
<path d="M52.4,311.15 L56.13,317.37 L48.66,317.37 Z" fill="#fff" stroke="#008000" stroke-width="0.9" stroke-linejoin="miter"/>
<path d="M54.36,308.63 L58.1,314.85 L50.63,314.85 Z" fill="#fff" stroke="#008000" stroke-width="0.9" stroke-linejoin="miter"/>
<path d="M56.33,306.12 L60.06,312.33 L52.59,312.33 Z" fill="#fff" stroke="#008000" stroke-width="0.9" stroke-linejoin="miter"/>
<path d="M58.3,303.59 L62.03,309.81 L54.56,309.81 Z" fill="#fff" stroke="#008000" stroke-width="0.9" stroke-linejoin="miter"/>
<path d="M60.26,301.07 L64,307.29 L56.53,307.29 Z" fill="#fff" stroke="#008000" stroke-width="0.9" stroke-linejoin="miter"/>
<path d="M62.23,298.56 L65.96,304.77 L58.49,304.77 Z" fill="#fff" stroke="#008000" stroke-width="0.9" stroke-linejoin="miter"/>
<path d="M64.19,296.03 L67.93,302.25 L60.46,302.25 Z" fill="#fff" stroke="#008000" stroke-width="0.9" stroke-linejoin="miter"/>
<path d="M66.16,293.51 L69.89,299.73 L62.42,299.73 Z" fill="#fff" stroke="#008000" stroke-width="0.9" stroke-linejoin="miter"/>
<path d="M68.13,291 L71.86,297.21 L64.39,297.21 Z" fill="#fff" stroke="#008000" stroke-width="0.9" stroke-linejoin="miter"/>
<path d="M70.09,288.47 L73.83,294.69 L66.36,294.69 Z" fill="#fff" stroke="#008000" stroke-width="0.9" stroke-linejoin="miter"/>
<path d="M72.06,285.95 L75.79,292.17 L68.32,292.17 Z" fill="#fff" stroke="#008000" stroke-width="0.9" stroke-linejoin="miter"/>
<path d="M74.02,283.44 L77.76,289.65 L70.29,289.65 Z" fill="#fff" stroke="#008000" stroke-width="0.9" stroke-linejoin="miter"/>
<path d="M75.99,280.92 L79.72,287.13 L72.25,287.13 Z" fill="#fff" stroke="#008000" stroke-width="0.9" stroke-linejoin="miter"/>
<path d="M77.96,278.39 L81.69,284.61 L74.22,284.61 Z" fill="#fff" stroke="#008000" stroke-width="0.9" stroke-linejoin="miter"/>
<path d="M79.92,275.88 L83.66,282.09 L76.19,282.09 Z" fill="#fff" stroke="#008000" stroke-width="0.9" stroke-linejoin="miter"/>
<path d="M81.89,273.35 L85.62,279.56 L78.15,279.56 Z" fill="#fff" stroke="#008000" stroke-width="0.9" stroke-linejoin="miter"/>
<path d="M83.85,270.83 L87.59,277.05 L80.12,277.05 Z" fill="#fff" stroke="#008000" stroke-width="0.9" stroke-linejoin="miter"/>
<path d="M85.82,268.31 L89.55,274.53 L82.08,274.53 Z" fill="#fff" stroke="#008000" stroke-width="0.9" stroke-linejoin="miter"/>
<path d="M87.79,265.8 L91.52,272.01 L84.05,272.01 Z" fill="#fff" stroke="#008000" stroke-width="0.9" stroke-linejoin="miter"/>
<path d="M89.75,263.27 L93.49,269.49 L86.02,269.49 Z" fill="#fff" stroke="#008000" stroke-width="0.9" stroke-linejoin="miter"/>
<path d="M91.72,260.75 L95.45,266.97 L87.98,266.97 Z" fill="#fff" stroke="#008000" stroke-width="0.9" stroke-linejoin="miter"/>
<path d="M93.68,258.24 L97.42,264.45 L89.95,264.45 Z" fill="#fff" stroke="#008000" stroke-width="0.9" stroke-linejoin="miter"/>
<path d="M95.65,255.72 L99.39,261.93 L91.92,261.93 Z" fill="#fff" stroke="#008000" stroke-width="0.9" stroke-linejoin="miter"/>
<path d="M97.62,261.81 L101.35,268.03 L93.88,268.03 Z" fill="#fff" stroke="#008000" stroke-width="0.9" stroke-linejoin="miter"/>
<path d="M99.58,264.99 L103.32,271.2 L95.85,271.2 Z" fill="#fff" stroke="#008000" stroke-width="0.9" stroke-linejoin="miter"/>
<path d="M101.55,267.61 L105.28,273.82 L97.81,273.82 Z" fill="#fff" stroke="#008000" stroke-width="0.9" stroke-linejoin="miter"/>
<path d="M103.51,270.22 L107.25,276.43 L99.78,276.43 Z" fill="#fff" stroke="#008000" stroke-width="0.9" stroke-linejoin="miter"/>
<path d="M105.48,272.84 L109.21,279.05 L101.74,279.05 Z" fill="#fff" stroke="#008000" stroke-width="0.9" stroke-linejoin="miter"/>
<path d="M107.45,275.46 L111.18,281.67 L103.71,281.67 Z" fill="#fff" stroke="#008000" stroke-width="0.9" stroke-linejoin="miter"/>
<path d="M109.41,278.08 L113.15,284.29 L105.68,284.29 Z" fill="#fff" stroke="#008000" stroke-width="0.9" stroke-linejoin="miter"/>
<path d="M111.38,280.69 L115.11,286.9 L107.64,286.9 Z" fill="#fff" stroke="#008000" stroke-width="0.9" stroke-linejoin="miter"/>
<path d="M113.34,283.31 L117.08,289.52 L109.61,289.52 Z" fill="#fff" stroke="#008000" stroke-width="0.9" stroke-linejoin="miter"/>
<path d="M115.31,286.04 L119.05,292.25 L111.58,292.25 Z" fill="#fff" stroke="#008000" stroke-width="0.9" stroke-linejoin="miter"/>
<path d="M117.28,288.81 L121.01,295.02 L113.54,295.02 Z" fill="#fff" stroke="#008000" stroke-width="0.9" stroke-linejoin="miter"/>
<path d="M119.24,291.58 L122.98,297.79 L115.51,297.79 Z" fill="#fff" stroke="#008000" stroke-width="0.9" stroke-linejoin="miter"/>
<path d="M121.21,294.35 L124.94,300.56 L117.47,300.56 Z" fill="#fff" stroke="#008000" stroke-width="0.9" stroke-linejoin="miter"/>
<path d="M123.17,297.12 L126.91,303.33 L119.44,303.33 Z" fill="#fff" stroke="#008000" stroke-width="0.9" stroke-linejoin="miter"/>
<path d="M125.14,299.89 L128.88,306.11 L121.41,306.11 Z" fill="#fff" stroke="#008000" stroke-width="0.9" stroke-linejoin="miter"/>
<path d="M127.11,302.47 L130.84,308.68 L123.37,308.68 Z" fill="#fff" stroke="#008000" stroke-width="0.9" stroke-linejoin="miter"/>
<path d="M129.07,305.05 L132.81,311.26 L125.34,311.26 Z" fill="#fff" stroke="#008000" stroke-width="0.9" stroke-linejoin="miter"/>
<path d="M131.04,307.63 L134.77,313.84 L127.3,313.84 Z" fill="#fff" stroke="#008000" stroke-width="0.9" stroke-linejoin="miter"/>
<path d="M133,310.21 L136.74,316.42 L129.27,316.42 Z" fill="#fff" stroke="#008000" stroke-width="0.9" stroke-linejoin="miter"/>
<path d="M134.97,312.79 L138.71,319 L131.23,319 Z" fill="#fff" stroke="#008000" stroke-width="0.9" stroke-linejoin="miter"/>
<path d="M136.94,315.22 L140.67,321.43 L133.2,321.43 Z" fill="#fff" stroke="#008000" stroke-width="0.9" stroke-linejoin="miter"/>
<path d="M138.9,317.32 L142.64,323.53 L135.17,323.53 Z" fill="#fff" stroke="#008000" stroke-width="0.9" stroke-linejoin="miter"/>
<path d="M140.87,319.41 L144.6,325.62 L137.13,325.62 Z" fill="#fff" stroke="#008000" stroke-width="0.9" stroke-linejoin="miter"/>
<path d="M142.83,321.5 L146.57,327.71 L139.1,327.71 Z" fill="#fff" stroke="#008000" stroke-width="0.9" stroke-linejoin="miter"/>
<path d="M144.8,323.59 L148.54,329.81 L141.06,329.81 Z" fill="#fff" stroke="#008000" stroke-width="0.9" stroke-linejoin="miter"/>
<polyline points="48.47,321.5 50.43,318.86 52.4,316.22 54.36,313.58 56.33,310.94 58.3,308.3 60.26,305.66 62.23,303.02 64.19,300.37 66.16,297.73 68.13,295.09 70.09,292.45 72.06,289.81 74.02,287.17 75.99,284.53 77.96,281.89 79.92,279.25 81.89,276.61 83.85,273.97 85.82,271.33 87.79,268.69 89.75,266.05 91.72,263.4 93.68,260.76 95.65,258.12 97.62,255.48 99.58,252.84 101.55,250.2 103.51,247.56 105.48,244.92 107.45,246 109.41,247.11 111.38,248.79 113.34,252.74 115.31,256.68 117.28,260.63 119.24,264.53 121.21,268.36 123.17,272.19 125.14,276.02 127.11,279.85 129.07,283.21 131.04,286.37 133,289.53 134.97,292.68 136.94,295.13 138.9,297.5 140.87,299.87 142.83,302.26 144.8,304.86 146.77,307.46 148.73,310.06 150.7,312.61 152.66,314.75 154.63,316.89 156.6,319.03 158.56,321.17 160.53,322.86 162.49,324.43 164.46,326" fill="none" stroke="#0000ff" stroke-width="0.8"/>
<path d="M48.47,324.61 L52.2,318.39 L44.73,318.39 Z" fill="#fff" stroke="#0000ff" stroke-width="0.9" stroke-linejoin="miter"/>
<path d="M50.43,321.96 L54.17,315.75 L46.7,315.75 Z" fill="#fff" stroke="#0000ff" stroke-width="0.9" stroke-linejoin="miter"/>
<path d="M52.4,319.32 L56.13,313.11 L48.66,313.11 Z" fill="#fff" stroke="#0000ff" stroke-width="0.9" stroke-linejoin="miter"/>
<path d="M54.36,316.68 L58.1,310.47 L50.63,310.47 Z" fill="#fff" stroke="#0000ff" stroke-width="0.9" stroke-linejoin="miter"/>
<path d="M56.33,314.04 L60.06,307.83 L52.59,307.83 Z" fill="#fff" stroke="#0000ff" stroke-width="0.9" stroke-linejoin="miter"/>
<path d="M58.3,311.4 L62.03,305.19 L54.56,305.19 Z" fill="#fff" stroke="#0000ff" stroke-width="0.9" stroke-linejoin="miter"/>
<path d="M60.26,308.76 L64,302.55 L56.53,302.55 Z" fill="#fff" stroke="#0000ff" stroke-width="0.9" stroke-linejoin="miter"/>
<path d="M62.23,306.12 L65.96,299.91 L58.49,299.91 Z" fill="#fff" stroke="#0000ff" stroke-width="0.9" stroke-linejoin="miter"/>
<path d="M64.19,303.48 L67.93,297.27 L60.46,297.27 Z" fill="#fff" stroke="#0000ff" stroke-width="0.9" stroke-linejoin="miter"/>
<path d="M66.16,300.84 L69.89,294.63 L62.42,294.63 Z" fill="#fff" stroke="#0000ff" stroke-width="0.9" stroke-linejoin="miter"/>
<path d="M68.13,298.2 L71.86,291.99 L64.39,291.99 Z" fill="#fff" stroke="#0000ff" stroke-width="0.9" stroke-linejoin="miter"/>
<path d="M70.09,295.56 L73.83,289.35 L66.36,289.35 Z" fill="#fff" stroke="#0000ff" stroke-width="0.9" stroke-linejoin="miter"/>
<path d="M72.06,292.92 L75.79,286.71 L68.32,286.71 Z" fill="#fff" stroke="#0000ff" stroke-width="0.9" stroke-linejoin="miter"/>
<path d="M74.02,290.28 L77.76,284.07 L70.29,284.07 Z" fill="#fff" stroke="#0000ff" stroke-width="0.9" stroke-linejoin="miter"/>
<path d="M75.99,287.64 L79.72,281.43 L72.25,281.43 Z" fill="#fff" stroke="#0000ff" stroke-width="0.9" stroke-linejoin="miter"/>
<path d="M77.96,284.99 L81.69,278.78 L74.22,278.78 Z" fill="#fff" stroke="#0000ff" stroke-width="0.9" stroke-linejoin="miter"/>
<path d="M79.92,282.35 L83.66,276.14 L76.19,276.14 Z" fill="#fff" stroke="#0000ff" stroke-width="0.9" stroke-linejoin="miter"/>
<path d="M81.89,279.71 L85.62,273.5 L78.15,273.5 Z" fill="#fff" stroke="#0000ff" stroke-width="0.9" stroke-linejoin="miter"/>
<path d="M83.85,277.07 L87.59,270.86 L80.12,270.86 Z" fill="#fff" stroke="#0000ff" stroke-width="0.9" stroke-linejoin="miter"/>
<path d="M85.82,274.43 L89.55,268.22 L82.08,268.22 Z" fill="#fff" stroke="#0000ff" stroke-width="0.9" stroke-linejoin="miter"/>
<path d="M87.79,271.79 L91.52,265.58 L84.05,265.58 Z" fill="#fff" stroke="#0000ff" stroke-width="0.9" stroke-linejoin="miter"/>
<path d="M89.75,269.15 L93.49,262.94 L86.02,262.94 Z" fill="#fff" stroke="#0000ff" stroke-width="0.9" stroke-linejoin="miter"/>
<path d="M91.72,266.51 L95.45,260.3 L87.98,260.3 Z" fill="#fff" stroke="#0000ff" stroke-width="0.9" stroke-linejoin="miter"/>
<path d="M93.68,263.87 L97.42,257.66 L89.95,257.66 Z" fill="#fff" stroke="#0000ff" stroke-width="0.9" stroke-linejoin="miter"/>
<path d="M95.65,261.23 L99.39,255.02 L91.92,255.02 Z" fill="#fff" stroke="#0000ff" stroke-width="0.9" stroke-linejoin="miter"/>
<path d="M97.62,258.59 L101.35,252.38 L93.88,252.38 Z" fill="#fff" stroke="#0000ff" stroke-width="0.9" stroke-linejoin="miter"/>
<path d="M99.58,255.95 L103.32,249.74 L95.85,249.74 Z" fill="#fff" stroke="#0000ff" stroke-width="0.9" stroke-linejoin="miter"/>
<path d="M101.55,253.31 L105.28,247.1 L97.81,247.1 Z" fill="#fff" stroke="#0000ff" stroke-width="0.9" stroke-linejoin="miter"/>
<path d="M103.51,250.67 L107.25,244.46 L99.78,244.46 Z" fill="#fff" stroke="#0000ff" stroke-width="0.9" stroke-linejoin="miter"/>
<path d="M105.48,248.03 L109.21,241.82 L101.74,241.82 Z" fill="#fff" stroke="#0000ff" stroke-width="0.9" stroke-linejoin="miter"/>
<path d="M107.45,249.1 L111.18,242.9 L103.71,242.9 Z" fill="#fff" stroke="#0000ff" stroke-width="0.9" stroke-linejoin="miter"/>
<path d="M109.41,250.22 L113.15,244.01 L105.68,244.01 Z" fill="#fff" stroke="#0000ff" stroke-width="0.9" stroke-linejoin="miter"/>
<path d="M111.38,251.89 L115.11,245.68 L107.64,245.68 Z" fill="#fff" stroke="#0000ff" stroke-width="0.9" stroke-linejoin="miter"/>
<path d="M113.34,255.84 L117.08,249.63 L109.61,249.63 Z" fill="#fff" stroke="#0000ff" stroke-width="0.9" stroke-linejoin="miter"/>
<path d="M115.31,259.79 L119.05,253.58 L111.58,253.58 Z" fill="#fff" stroke="#0000ff" stroke-width="0.9" stroke-linejoin="miter"/>
<path d="M117.28,263.74 L121.01,257.53 L113.54,257.53 Z" fill="#fff" stroke="#0000ff" stroke-width="0.9" stroke-linejoin="miter"/>
<path d="M119.24,267.64 L122.98,261.43 L115.51,261.43 Z" fill="#fff" stroke="#0000ff" stroke-width="0.9" stroke-linejoin="miter"/>
<path d="M121.21,271.47 L124.94,265.26 L117.47,265.26 Z" fill="#fff" stroke="#0000ff" stroke-width="0.9" stroke-linejoin="miter"/>
<path d="M123.17,275.3 L126.91,269.09 L119.44,269.09 Z" fill="#fff" stroke="#0000ff" stroke-width="0.9" stroke-linejoin="miter"/>
<path d="M125.14,279.13 L128.88,272.92 L121.41,272.92 Z" fill="#fff" stroke="#0000ff" stroke-width="0.9" stroke-linejoin="miter"/>
<path d="M127.11,282.96 L130.84,276.75 L123.37,276.75 Z" fill="#fff" stroke="#0000ff" stroke-width="0.9" stroke-linejoin="miter"/>
<path d="M129.07,286.32 L132.81,280.11 L125.34,280.11 Z" fill="#fff" stroke="#0000ff" stroke-width="0.9" stroke-linejoin="miter"/>
<path d="M131.04,289.47 L134.77,283.26 L127.3,283.26 Z" fill="#fff" stroke="#0000ff" stroke-width="0.9" stroke-linejoin="miter"/>
<path d="M133,292.63 L136.74,286.42 L129.27,286.42 Z" fill="#fff" stroke="#0000ff" stroke-width="0.9" stroke-linejoin="miter"/>
<path d="M134.97,295.79 L138.71,289.58 L131.23,289.58 Z" fill="#fff" stroke="#0000ff" stroke-width="0.9" stroke-linejoin="miter"/>
<path d="M136.94,298.24 L140.67,292.03 L133.2,292.03 Z" fill="#fff" stroke="#0000ff" stroke-width="0.9" stroke-linejoin="miter"/>
<path d="M138.9,300.61 L142.64,294.39 L135.17,294.39 Z" fill="#fff" stroke="#0000ff" stroke-width="0.9" stroke-linejoin="miter"/>
<path d="M140.87,302.97 L144.6,296.76 L137.13,296.76 Z" fill="#fff" stroke="#0000ff" stroke-width="0.9" stroke-linejoin="miter"/>
<path d="M142.83,305.37 L146.57,299.15 L139.1,299.15 Z" fill="#fff" stroke="#0000ff" stroke-width="0.9" stroke-linejoin="miter"/>
<path d="M144.8,307.97 L148.54,301.75 L141.06,301.75 Z" fill="#fff" stroke="#0000ff" stroke-width="0.9" stroke-linejoin="miter"/>
<path d="M146.77,310.56 L150.5,304.35 L143.03,304.35 Z" fill="#fff" stroke="#0000ff" stroke-width="0.9" stroke-linejoin="miter"/>
<path d="M148.73,313.17 L152.47,306.95 L145,306.95 Z" fill="#fff" stroke="#0000ff" stroke-width="0.9" stroke-linejoin="miter"/>
<path d="M150.7,315.72 L154.43,309.51 L146.96,309.51 Z" fill="#fff" stroke="#0000ff" stroke-width="0.9" stroke-linejoin="miter"/>
<path d="M152.66,317.86 L156.4,311.65 L148.93,311.65 Z" fill="#fff" stroke="#0000ff" stroke-width="0.9" stroke-linejoin="miter"/>
<path d="M154.63,320 L158.37,313.79 L150.89,313.79 Z" fill="#fff" stroke="#0000ff" stroke-width="0.9" stroke-linejoin="miter"/>
<path d="M156.6,322.14 L160.33,315.93 L152.86,315.93 Z" fill="#fff" stroke="#0000ff" stroke-width="0.9" stroke-linejoin="miter"/>
<path d="M158.56,324.28 L162.3,318.07 L154.83,318.07 Z" fill="#fff" stroke="#0000ff" stroke-width="0.9" stroke-linejoin="miter"/>
<path d="M160.53,325.96 L164.26,319.75 L156.79,319.75 Z" fill="#fff" stroke="#0000ff" stroke-width="0.9" stroke-linejoin="miter"/>
<path d="M162.49,327.53 L166.23,321.32 L158.76,321.32 Z" fill="#fff" stroke="#0000ff" stroke-width="0.9" stroke-linejoin="miter"/>
<path d="M164.46,329.11 L168.19,322.89 L160.72,322.89 Z" fill="#fff" stroke="#0000ff" stroke-width="0.9" stroke-linejoin="miter"/>
<polyline points="48.47,320 50.43,317.48 52.4,314.96 54.36,312.44 56.33,309.92 58.3,307.4 60.26,304.88 62.23,302.36 64.19,299.84 66.16,297.32 68.13,294.8 70.09,292.28 72.06,289.76 74.02,287.24 75.99,284.72 77.96,282.2 79.92,279.68 81.89,277.16 83.85,274.64 85.82,272.12 87.79,269.6 89.75,267.08 91.72,264.56 93.68,262.04 95.65,259.52 97.62,257 99.58,254.48 101.55,251.96 103.51,249.44 105.48,246.92 107.45,244.4 109.41,241.88 111.38,239.36 113.34,236.84 115.31,234.32 117.28,238.77 119.24,243.13 121.21,247.5 123.17,251.92 125.14,256.29 127.11,260.18 129.07,263.87 131.04,266.73 133,269.58 134.97,272.37 136.94,275.16 138.9,277.56 140.87,279.79 142.83,282.18 144.8,285.94 146.77,289.73 148.73,293.57 150.7,296.98 152.66,300.12 154.63,303.06 156.6,305.72 158.56,308.37 160.53,310.78 162.49,313.12 164.46,315.39 166.43,317.31 168.39,319.24 170.36,320.74 172.32,321.83 174.29,322.91 176.26,324 178.22,325 180.19,326 182.15,327 184.12,328" fill="none" stroke="#8000ff" stroke-width="0.8"/>
<circle cx="48.47" cy="320" r="3.3" fill="#fff" stroke="#8000ff" stroke-width="0.9"/>
<circle cx="50.43" cy="317.48" r="3.3" fill="#fff" stroke="#8000ff" stroke-width="0.9"/>
<circle cx="52.4" cy="314.96" r="3.3" fill="#fff" stroke="#8000ff" stroke-width="0.9"/>
<circle cx="54.36" cy="312.44" r="3.3" fill="#fff" stroke="#8000ff" stroke-width="0.9"/>
<circle cx="56.33" cy="309.92" r="3.3" fill="#fff" stroke="#8000ff" stroke-width="0.9"/>
<circle cx="58.3" cy="307.4" r="3.3" fill="#fff" stroke="#8000ff" stroke-width="0.9"/>
<circle cx="60.26" cy="304.88" r="3.3" fill="#fff" stroke="#8000ff" stroke-width="0.9"/>
<circle cx="62.23" cy="302.36" r="3.3" fill="#fff" stroke="#8000ff" stroke-width="0.9"/>
<circle cx="64.19" cy="299.84" r="3.3" fill="#fff" stroke="#8000ff" stroke-width="0.9"/>
<circle cx="66.16" cy="297.32" r="3.3" fill="#fff" stroke="#8000ff" stroke-width="0.9"/>
<circle cx="68.13" cy="294.8" r="3.3" fill="#fff" stroke="#8000ff" stroke-width="0.9"/>
<circle cx="70.09" cy="292.28" r="3.3" fill="#fff" stroke="#8000ff" stroke-width="0.9"/>
<circle cx="72.06" cy="289.76" r="3.3" fill="#fff" stroke="#8000ff" stroke-width="0.9"/>
<circle cx="74.02" cy="287.24" r="3.3" fill="#fff" stroke="#8000ff" stroke-width="0.9"/>
<circle cx="75.99" cy="284.72" r="3.3" fill="#fff" stroke="#8000ff" stroke-width="0.9"/>
<circle cx="77.96" cy="282.2" r="3.3" fill="#fff" stroke="#8000ff" stroke-width="0.9"/>
<circle cx="79.92" cy="279.68" r="3.3" fill="#fff" stroke="#8000ff" stroke-width="0.9"/>
<circle cx="81.89" cy="277.16" r="3.3" fill="#fff" stroke="#8000ff" stroke-width="0.9"/>
<circle cx="83.85" cy="274.64" r="3.3" fill="#fff" stroke="#8000ff" stroke-width="0.9"/>
<circle cx="85.82" cy="272.12" r="3.3" fill="#fff" stroke="#8000ff" stroke-width="0.9"/>
<circle cx="87.79" cy="269.6" r="3.3" fill="#fff" stroke="#8000ff" stroke-width="0.9"/>
<circle cx="89.75" cy="267.08" r="3.3" fill="#fff" stroke="#8000ff" stroke-width="0.9"/>
<circle cx="91.72" cy="264.56" r="3.3" fill="#fff" stroke="#8000ff" stroke-width="0.9"/>
<circle cx="93.68" cy="262.04" r="3.3" fill="#fff" stroke="#8000ff" stroke-width="0.9"/>
<circle cx="95.65" cy="259.52" r="3.3" fill="#fff" stroke="#8000ff" stroke-width="0.9"/>
<circle cx="97.62" cy="257" r="3.3" fill="#fff" stroke="#8000ff" stroke-width="0.9"/>
<circle cx="99.58" cy="254.48" r="3.3" fill="#fff" stroke="#8000ff" stroke-width="0.9"/>
<circle cx="101.55" cy="251.96" r="3.3" fill="#fff" stroke="#8000ff" stroke-width="0.9"/>
<circle cx="103.51" cy="249.44" r="3.3" fill="#fff" stroke="#8000ff" stroke-width="0.9"/>
<circle cx="105.48" cy="246.92" r="3.3" fill="#fff" stroke="#8000ff" stroke-width="0.9"/>
<circle cx="107.45" cy="244.4" r="3.3" fill="#fff" stroke="#8000ff" stroke-width="0.9"/>
<circle cx="109.41" cy="241.88" r="3.3" fill="#fff" stroke="#8000ff" stroke-width="0.9"/>
<circle cx="111.38" cy="239.36" r="3.3" fill="#fff" stroke="#8000ff" stroke-width="0.9"/>
<circle cx="113.34" cy="236.84" r="3.3" fill="#fff" stroke="#8000ff" stroke-width="0.9"/>
<circle cx="115.31" cy="234.32" r="3.3" fill="#fff" stroke="#8000ff" stroke-width="0.9"/>
<circle cx="117.28" cy="238.77" r="3.3" fill="#fff" stroke="#8000ff" stroke-width="0.9"/>
<circle cx="119.24" cy="243.13" r="3.3" fill="#fff" stroke="#8000ff" stroke-width="0.9"/>
<circle cx="121.21" cy="247.5" r="3.3" fill="#fff" stroke="#8000ff" stroke-width="0.9"/>
<circle cx="123.17" cy="251.92" r="3.3" fill="#fff" stroke="#8000ff" stroke-width="0.9"/>
<circle cx="125.14" cy="256.29" r="3.3" fill="#fff" stroke="#8000ff" stroke-width="0.9"/>
<circle cx="127.11" cy="260.18" r="3.3" fill="#fff" stroke="#8000ff" stroke-width="0.9"/>
<circle cx="129.07" cy="263.87" r="3.3" fill="#fff" stroke="#8000ff" stroke-width="0.9"/>
<circle cx="131.04" cy="266.73" r="3.3" fill="#fff" stroke="#8000ff" stroke-width="0.9"/>
<circle cx="133" cy="269.58" r="3.3" fill="#fff" stroke="#8000ff" stroke-width="0.9"/>
<circle cx="134.97" cy="272.37" r="3.3" fill="#fff" stroke="#8000ff" stroke-width="0.9"/>
<circle cx="136.94" cy="275.16" r="3.3" fill="#fff" stroke="#8000ff" stroke-width="0.9"/>
<circle cx="138.9" cy="277.56" r="3.3" fill="#fff" stroke="#8000ff" stroke-width="0.9"/>
<circle cx="140.87" cy="279.79" r="3.3" fill="#fff" stroke="#8000ff" stroke-width="0.9"/>
<circle cx="142.83" cy="282.18" r="3.3" fill="#fff" stroke="#8000ff" stroke-width="0.9"/>
<circle cx="144.8" cy="285.94" r="3.3" fill="#fff" stroke="#8000ff" stroke-width="0.9"/>
<circle cx="146.77" cy="289.73" r="3.3" fill="#fff" stroke="#8000ff" stroke-width="0.9"/>
<circle cx="148.73" cy="293.57" r="3.3" fill="#fff" stroke="#8000ff" stroke-width="0.9"/>
<circle cx="150.7" cy="296.98" r="3.3" fill="#fff" stroke="#8000ff" stroke-width="0.9"/>
<circle cx="152.66" cy="300.12" r="3.3" fill="#fff" stroke="#8000ff" stroke-width="0.9"/>
<circle cx="154.63" cy="303.06" r="3.3" fill="#fff" stroke="#8000ff" stroke-width="0.9"/>
<circle cx="156.6" cy="305.72" r="3.3" fill="#fff" stroke="#8000ff" stroke-width="0.9"/>
<circle cx="158.56" cy="308.37" r="3.3" fill="#fff" stroke="#8000ff" stroke-width="0.9"/>
<circle cx="160.53" cy="310.78" r="3.3" fill="#fff" stroke="#8000ff" stroke-width="0.9"/>
<circle cx="162.49" cy="313.12" r="3.3" fill="#fff" stroke="#8000ff" stroke-width="0.9"/>
<circle cx="164.46" cy="315.39" r="3.3" fill="#fff" stroke="#8000ff" stroke-width="0.9"/>
<circle cx="166.43" cy="317.31" r="3.3" fill="#fff" stroke="#8000ff" stroke-width="0.9"/>
<circle cx="168.39" cy="319.24" r="3.3" fill="#fff" stroke="#8000ff" stroke-width="0.9"/>
<circle cx="170.36" cy="320.74" r="3.3" fill="#fff" stroke="#8000ff" stroke-width="0.9"/>
<circle cx="172.32" cy="321.83" r="3.3" fill="#fff" stroke="#8000ff" stroke-width="0.9"/>
<circle cx="174.29" cy="322.91" r="3.3" fill="#fff" stroke="#8000ff" stroke-width="0.9"/>
<circle cx="176.26" cy="324" r="3.3" fill="#fff" stroke="#8000ff" stroke-width="0.9"/>
<circle cx="178.22" cy="325" r="3.3" fill="#fff" stroke="#8000ff" stroke-width="0.9"/>
<circle cx="180.19" cy="326" r="3.3" fill="#fff" stroke="#8000ff" stroke-width="0.9"/>
<circle cx="182.15" cy="327" r="3.3" fill="#fff" stroke="#8000ff" stroke-width="0.9"/>
<circle cx="184.12" cy="328" r="3.3" fill="#fff" stroke="#8000ff" stroke-width="0.9"/>
<line x1="150.2" y1="228" x2="164.2" y2="228" stroke="#ff0000" stroke-width="1.3"/>
<rect x="154.05" y="224.95" width="6.1" height="6.1" fill="#fff" stroke="#ff0000" stroke-width="1.2"/>
<text transform="translate(167.9,230.9) scale(1,1.06)" font-size="10.5" text-anchor="start" fill="#222" stroke="#222" stroke-width="0.18" >30 P-D</text>
<line x1="150.2" y1="240.75" x2="164.2" y2="240.75" stroke="#ff8000" stroke-width="1.3"/>
<circle cx="157.1" cy="240.75" r="3.05" fill="#fff" stroke="#ff8000" stroke-width="1.2"/>
<text transform="translate(167.9,243.65) scale(1,1.06)" font-size="10.5" text-anchor="start" fill="#222" stroke="#222" stroke-width="0.18" >40 P-D</text>
<line x1="150.2" y1="253.5" x2="164.2" y2="253.5" stroke="#008000" stroke-width="1.3"/>
<path d="M157.1,250.7 L160.48,256.3 L153.72,256.3 Z" fill="#fff" stroke="#008000" stroke-width="1.2" stroke-linejoin="miter"/>
<text transform="translate(167.9,256.4) scale(1,1.06)" font-size="10.5" text-anchor="start" fill="#222" stroke="#222" stroke-width="0.18" >50 P-D</text>
<line x1="150.2" y1="266.25" x2="164.2" y2="266.25" stroke="#0000ff" stroke-width="1.3"/>
<path d="M157.1,269.05 L160.48,263.45 L153.72,263.45 Z" fill="#fff" stroke="#0000ff" stroke-width="1.2" stroke-linejoin="miter"/>
<text transform="translate(167.9,269.15) scale(1,1.06)" font-size="10.5" text-anchor="start" fill="#222" stroke="#222" stroke-width="0.18" >60 P-D</text>
<line x1="150.2" y1="279" x2="164.2" y2="279" stroke="#8000ff" stroke-width="1.3"/>
<circle cx="157.1" cy="279" r="3.05" fill="#fff" stroke="#8000ff" stroke-width="1.2"/>
<text transform="translate(167.9,281.9) scale(1,1.06)" font-size="10.5" text-anchor="start" fill="#222" stroke="#222" stroke-width="0.18" >70 P-D</text>
<rect x="273" y="216.5" width="167.7" height="125.1" fill="none" stroke="#707070" stroke-width="1.2"/>
<line x1="289.5" y1="341.6" x2="289.5" y2="339.4" stroke="#333" stroke-width="1"/><line x1="323.02" y1="341.6" x2="323.02" y2="339.4" stroke="#333" stroke-width="1"/><line x1="356.55" y1="341.6" x2="356.55" y2="339.4" stroke="#333" stroke-width="1"/><line x1="390.07" y1="341.6" x2="390.07" y2="339.4" stroke="#333" stroke-width="1"/><line x1="423.6" y1="341.6" x2="423.6" y2="339.4" stroke="#333" stroke-width="1"/>
<line x1="306.26" y1="341.6" x2="306.26" y2="340.4" stroke="#333" stroke-width="1"/><line x1="339.79" y1="341.6" x2="339.79" y2="340.4" stroke="#333" stroke-width="1"/><line x1="373.31" y1="341.6" x2="373.31" y2="340.4" stroke="#333" stroke-width="1"/><line x1="406.84" y1="341.6" x2="406.84" y2="340.4" stroke="#333" stroke-width="1"/>
<line x1="273" y1="332.9" x2="275.2" y2="332.9" stroke="#333" stroke-width="1"/><line x1="273" y1="299.76" x2="275.2" y2="299.76" stroke="#333" stroke-width="1"/><line x1="273" y1="266.62" x2="275.2" y2="266.62" stroke="#333" stroke-width="1"/><line x1="273" y1="233.48" x2="275.2" y2="233.48" stroke="#333" stroke-width="1"/>
<line x1="273" y1="316.33" x2="274.2" y2="316.33" stroke="#333" stroke-width="1"/><line x1="273" y1="283.19" x2="274.2" y2="283.19" stroke="#333" stroke-width="1"/><line x1="273" y1="250.05" x2="274.2" y2="250.05" stroke="#333" stroke-width="1"/>
<text transform="translate(289.5,355.7) scale(1,1.03)" font-size="13.8" text-anchor="middle" fill="#111" stroke="#111" stroke-width="0.18" >30</text>
<text transform="translate(323.02,355.7) scale(1,1.03)" font-size="13.8" text-anchor="middle" fill="#111" stroke="#111" stroke-width="0.18" >40</text>
<text transform="translate(356.55,355.7) scale(1,1.03)" font-size="13.8" text-anchor="middle" fill="#111" stroke="#111" stroke-width="0.18" >50</text>
<text transform="translate(390.07,355.7) scale(1,1.03)" font-size="13.8" text-anchor="middle" fill="#111" stroke="#111" stroke-width="0.18" >60</text>
<text transform="translate(423.6,355.7) scale(1,1.03)" font-size="13.8" text-anchor="middle" fill="#111" stroke="#111" stroke-width="0.18" >70</text>
<text transform="translate(269.7,337.5) scale(1,1.03)" font-size="13.8" text-anchor="end" fill="#111" stroke="#111" stroke-width="0.18" >0E+00</text>
<text transform="translate(269.7,304.03) scale(1,1.03)" font-size="13.8" text-anchor="end" fill="#111" stroke="#111" stroke-width="0.18" >2E-03</text>
<text transform="translate(269.7,270.55) scale(1,1.03)" font-size="13.8" text-anchor="end" fill="#111" stroke="#111" stroke-width="0.18" >4E-03</text>
<text transform="translate(269.7,237.08) scale(1,1.03)" font-size="13.8" text-anchor="end" fill="#111" stroke="#111" stroke-width="0.18" >6E-03</text>
<text transform="translate(234,277.5) rotate(-90)" font-size="13.8" text-anchor="middle" fill="#111" stroke="#111" stroke-width="0.18" font-style="italic">β</text>
<text transform="translate(356.2,373.2) scale(1,1.0)" font-size="14" text-anchor="middle" fill="#111" stroke="#111" stroke-width="0.18" >Total # of P-D pulses</text>
<polyline points="289.5,223.4 323.02,223.4 356.55,223.4 390.07,223.4 423.6,223.4" fill="none" stroke="#008000" stroke-width="1.8"/>
<path d="M289.5,219.28 L294.12,226.92 L284.88,226.92 Z" fill="#fff" stroke="#008000" stroke-width="1.8" stroke-linejoin="miter"/>
<path d="M323.02,219.28 L327.64,226.92 L318.4,226.92 Z" fill="#fff" stroke="#008000" stroke-width="1.8" stroke-linejoin="miter"/>
<path d="M356.55,219.28 L361.17,226.92 L351.93,226.92 Z" fill="#fff" stroke="#008000" stroke-width="1.8" stroke-linejoin="miter"/>
<path d="M390.07,219.28 L394.69,226.92 L385.45,226.92 Z" fill="#fff" stroke="#008000" stroke-width="1.8" stroke-linejoin="miter"/>
<path d="M423.6,219.28 L428.22,226.92 L418.98,226.92 Z" fill="#fff" stroke="#008000" stroke-width="1.8" stroke-linejoin="miter"/>
<polyline points="289.5,332 323.02,332.6 356.55,331.8 390.07,330.9 423.6,330.9" fill="none" stroke="#ff0000" stroke-width="1.8"/>
<rect x="286.15" y="328.65" width="6.7" height="6.7" fill="#fff" stroke="#ff0000" stroke-width="1.8"/>
<rect x="319.67" y="329.25" width="6.7" height="6.7" fill="#fff" stroke="#ff0000" stroke-width="1.8"/>
<rect x="353.2" y="328.45" width="6.7" height="6.7" fill="#fff" stroke="#ff0000" stroke-width="1.8"/>
<rect x="386.72" y="327.55" width="6.7" height="6.7" fill="#fff" stroke="#ff0000" stroke-width="1.8"/>
<rect x="420.25" y="327.55" width="6.7" height="6.7" fill="#fff" stroke="#ff0000" stroke-width="1.8"/>
<polyline points="289.5,325.2 323.02,327.9 356.55,321 390.07,317.3 423.6,318.5" fill="none" stroke="#ff8000" stroke-width="1.8"/>
<circle cx="289.5" cy="325.2" r="3.7" fill="#fff" stroke="#ff8000" stroke-width="1.9"/>
<circle cx="323.02" cy="327.9" r="3.7" fill="#fff" stroke="#ff8000" stroke-width="1.9"/>
<circle cx="356.55" cy="321" r="3.7" fill="#fff" stroke="#ff8000" stroke-width="1.9"/>
<circle cx="390.07" cy="317.3" r="3.7" fill="#fff" stroke="#ff8000" stroke-width="1.9"/>
<circle cx="423.6" cy="318.5" r="3.7" fill="#fff" stroke="#ff8000" stroke-width="1.9"/>
<line x1="289.5" y1="333.5" x2="423.6" y2="333.5" stroke="#0000ff" stroke-width="2" stroke-dasharray="7 9.9"/>
<line x1="290.5" y1="257" x2="304.2" y2="257" stroke="#ff0000" stroke-width="1.4"/>
<rect x="294.45" y="254.15" width="5.7" height="5.7" fill="#fff" stroke="#ff0000" stroke-width="1.3"/>
<text transform="translate(307.7,260) scale(1,1.1)" font-size="10.5" text-anchor="start" fill="#222" stroke="#222" stroke-width="0.18" >Potentiation (spin-S)</text>
<line x1="290.5" y1="269.85" x2="304.2" y2="269.85" stroke="#ff8000" stroke-width="1.4"/>
<circle cx="297.3" cy="269.85" r="2.85" fill="#fff" stroke="#ff8000" stroke-width="1.3"/>
<text transform="translate(307.7,272.85) scale(1,1.1)" font-size="10.5" text-anchor="start" fill="#222" stroke="#222" stroke-width="0.18" >Depression (spin-S)</text>
<line x1="290.5" y1="282.7" x2="304.2" y2="282.7" stroke="#008000" stroke-width="1.4"/>
<path d="M297.3,280.31 L300.19,285.08 L294.41,285.08 Z" fill="#fff" stroke="#008000" stroke-width="1.3" stroke-linejoin="miter"/>
<text transform="translate(307.7,285.7) scale(1,1.1)" font-size="10.5" text-anchor="start" fill="#222" stroke="#222" stroke-width="0.18" >RRAM</text>
<line x1="291.9" y1="296.2" x2="298.9" y2="296.2" stroke="#0000ff" stroke-width="2"/>
<text transform="translate(309.8,299.2) scale(1,1.1)" font-size="10.4" text-anchor="start" fill="#222" stroke="#222" stroke-width="0.18" >Ideal device</text>
<rect x="510.7" y="216.5" width="167.5" height="125.4" fill="none" stroke="#707070" stroke-width="1.2"/>
<line x1="523.3" y1="341.9" x2="523.3" y2="339.7" stroke="#333" stroke-width="1"/><line x1="574.5" y1="341.9" x2="574.5" y2="339.7" stroke="#333" stroke-width="1"/><line x1="625.7" y1="341.9" x2="625.7" y2="339.7" stroke="#333" stroke-width="1"/><line x1="676.9" y1="341.9" x2="676.9" y2="339.7" stroke="#333" stroke-width="1"/>
<line x1="548.9" y1="341.9" x2="548.9" y2="340.7" stroke="#333" stroke-width="1"/><line x1="600.1" y1="341.9" x2="600.1" y2="340.7" stroke="#333" stroke-width="1"/><line x1="651.3" y1="341.9" x2="651.3" y2="340.7" stroke="#333" stroke-width="1"/>
<line x1="510.7" y1="238.2" x2="512.9" y2="238.2" stroke="#333" stroke-width="1"/><line x1="510.7" y1="283.25" x2="512.9" y2="283.25" stroke="#333" stroke-width="1"/><line x1="510.7" y1="328.3" x2="512.9" y2="328.3" stroke="#333" stroke-width="1"/>
<line x1="510.7" y1="260.72" x2="511.9" y2="260.72" stroke="#333" stroke-width="1"/><line x1="510.7" y1="305.77" x2="511.9" y2="305.77" stroke="#333" stroke-width="1"/>
<text transform="translate(523.3,355.6) scale(1,1.03)" font-size="13.8" text-anchor="middle" fill="#111" stroke="#111" stroke-width="0.18" >0</text>
<text transform="translate(574.5,355.6) scale(1,1.03)" font-size="13.8" text-anchor="middle" fill="#111" stroke="#111" stroke-width="0.18" >20</text>
<text transform="translate(625.7,355.6) scale(1,1.03)" font-size="13.8" text-anchor="middle" fill="#111" stroke="#111" stroke-width="0.18" >40</text>
<text transform="translate(676.9,355.6) scale(1,1.03)" font-size="13.8" text-anchor="middle" fill="#111" stroke="#111" stroke-width="0.18" >60</text>
<text transform="translate(506.9,243) scale(1,1.03)" font-size="13.8" text-anchor="end" fill="#111" stroke="#111" stroke-width="0.18" >-3.5</text>
<text transform="translate(506.9,288.05) scale(1,1.03)" font-size="13.8" text-anchor="end" fill="#111" stroke="#111" stroke-width="0.18" >-4.5</text>
<text transform="translate(506.9,333.1) scale(1,1.03)" font-size="13.8" text-anchor="end" fill="#111" stroke="#111" stroke-width="0.18" >-5.5</text>
<text transform="translate(475.5,278.7) scale(1,1.02) rotate(-90)" font-size="13.8" text-anchor="middle" fill="#111" stroke="#111" stroke-width="0.18">Hall resisstance (<tspan font-size="14.8">Ω</tspan>)</text>
<text transform="translate(593.3,372) scale(1,1.0)" font-size="13.8" text-anchor="middle" fill="#111" stroke="#111" stroke-width="0.18" >Pulse number</text>
<polyline points="525.16,320.31 527.91,318.1 530.48,315.54 532.52,312.28 535.87,310.04 538.45,306.66 540.72,304.34 543.39,302.33 545.58,299.23 548.4,297.82 551.41,294.08 554.04,291.52 556.51,288.97 558.63,287.64 561.41,284.06 564.65,282.58 566.7,280.19 569.52,277.21 571.86,275.1 574.87,272.61 577.64,269.01 579.83,266.27 582.27,263.58 585.01,261.91 587.38,259.5 590.29,262.87 593.32,266.86 595.56,270.58 598.51,273.61 601.37,277.27 603.83,281.85 605.89,284.81 608.81,287.52 611.16,289.71 613.94,293.98 616.6,296.42 619.83,299.48 622,301.3 624.79,304.62 627.1,307.16 630.29,309.92 632.32,312.39 635.01,313.55 638.07,316.6 640.49,318.65 643.3,319.46 645.76,321.03 648.21,322.55 651.34,325.38 653.56,325.34" fill="none" stroke="#ff2020" stroke-width="0.8"/>
<rect x="522.43" y="317.58" width="5.45" height="5.45" fill="none" stroke="#ff2020" stroke-width="0.95"/>
<rect x="525.18" y="315.37" width="5.45" height="5.45" fill="none" stroke="#ff2020" stroke-width="0.95"/>
<rect x="527.75" y="312.81" width="5.45" height="5.45" fill="none" stroke="#ff2020" stroke-width="0.95"/>
<rect x="529.8" y="309.55" width="5.45" height="5.45" fill="none" stroke="#ff2020" stroke-width="0.95"/>
<rect x="533.14" y="307.32" width="5.45" height="5.45" fill="none" stroke="#ff2020" stroke-width="0.95"/>
<rect x="535.72" y="303.93" width="5.45" height="5.45" fill="none" stroke="#ff2020" stroke-width="0.95"/>
<rect x="537.99" y="301.61" width="5.45" height="5.45" fill="none" stroke="#ff2020" stroke-width="0.95"/>
<rect x="540.66" y="299.61" width="5.45" height="5.45" fill="none" stroke="#ff2020" stroke-width="0.95"/>
<rect x="542.85" y="296.51" width="5.45" height="5.45" fill="none" stroke="#ff2020" stroke-width="0.95"/>
<rect x="545.68" y="295.1" width="5.45" height="5.45" fill="none" stroke="#ff2020" stroke-width="0.95"/>
<rect x="548.68" y="291.36" width="5.45" height="5.45" fill="none" stroke="#ff2020" stroke-width="0.95"/>
<rect x="551.32" y="288.8" width="5.45" height="5.45" fill="none" stroke="#ff2020" stroke-width="0.95"/>
<rect x="553.79" y="286.25" width="5.45" height="5.45" fill="none" stroke="#ff2020" stroke-width="0.95"/>
<rect x="555.91" y="284.91" width="5.45" height="5.45" fill="none" stroke="#ff2020" stroke-width="0.95"/>
<rect x="558.69" y="281.33" width="5.45" height="5.45" fill="none" stroke="#ff2020" stroke-width="0.95"/>
<rect x="561.92" y="279.85" width="5.45" height="5.45" fill="none" stroke="#ff2020" stroke-width="0.95"/>
<rect x="563.98" y="277.47" width="5.45" height="5.45" fill="none" stroke="#ff2020" stroke-width="0.95"/>
<rect x="566.79" y="274.48" width="5.45" height="5.45" fill="none" stroke="#ff2020" stroke-width="0.95"/>
<rect x="569.14" y="272.38" width="5.45" height="5.45" fill="none" stroke="#ff2020" stroke-width="0.95"/>
<rect x="572.14" y="269.89" width="5.45" height="5.45" fill="none" stroke="#ff2020" stroke-width="0.95"/>
<rect x="574.92" y="266.29" width="5.45" height="5.45" fill="none" stroke="#ff2020" stroke-width="0.95"/>
<rect x="577.1" y="263.55" width="5.45" height="5.45" fill="none" stroke="#ff2020" stroke-width="0.95"/>
<rect x="579.54" y="260.86" width="5.45" height="5.45" fill="none" stroke="#ff2020" stroke-width="0.95"/>
<rect x="582.28" y="259.19" width="5.45" height="5.45" fill="none" stroke="#ff2020" stroke-width="0.95"/>
<rect x="584.66" y="256.78" width="5.45" height="5.45" fill="none" stroke="#ff2020" stroke-width="0.95"/>
<rect x="587.57" y="260.15" width="5.45" height="5.45" fill="none" stroke="#ff2020" stroke-width="0.95"/>
<rect x="590.59" y="264.13" width="5.45" height="5.45" fill="none" stroke="#ff2020" stroke-width="0.95"/>
<rect x="592.83" y="267.85" width="5.45" height="5.45" fill="none" stroke="#ff2020" stroke-width="0.95"/>
<rect x="595.79" y="270.89" width="5.45" height="5.45" fill="none" stroke="#ff2020" stroke-width="0.95"/>
<rect x="598.64" y="274.55" width="5.45" height="5.45" fill="none" stroke="#ff2020" stroke-width="0.95"/>
<rect x="601.11" y="279.13" width="5.45" height="5.45" fill="none" stroke="#ff2020" stroke-width="0.95"/>
<rect x="603.16" y="282.08" width="5.45" height="5.45" fill="none" stroke="#ff2020" stroke-width="0.95"/>
<rect x="606.08" y="284.79" width="5.45" height="5.45" fill="none" stroke="#ff2020" stroke-width="0.95"/>
<rect x="608.44" y="286.98" width="5.45" height="5.45" fill="none" stroke="#ff2020" stroke-width="0.95"/>
<rect x="611.22" y="291.26" width="5.45" height="5.45" fill="none" stroke="#ff2020" stroke-width="0.95"/>
<rect x="613.87" y="293.7" width="5.45" height="5.45" fill="none" stroke="#ff2020" stroke-width="0.95"/>
<rect x="617.1" y="296.76" width="5.45" height="5.45" fill="none" stroke="#ff2020" stroke-width="0.95"/>
<rect x="619.28" y="298.58" width="5.45" height="5.45" fill="none" stroke="#ff2020" stroke-width="0.95"/>
<rect x="622.06" y="301.9" width="5.45" height="5.45" fill="none" stroke="#ff2020" stroke-width="0.95"/>
<rect x="624.37" y="304.43" width="5.45" height="5.45" fill="none" stroke="#ff2020" stroke-width="0.95"/>
<rect x="627.56" y="307.19" width="5.45" height="5.45" fill="none" stroke="#ff2020" stroke-width="0.95"/>
<rect x="629.6" y="309.67" width="5.45" height="5.45" fill="none" stroke="#ff2020" stroke-width="0.95"/>
<rect x="632.28" y="310.82" width="5.45" height="5.45" fill="none" stroke="#ff2020" stroke-width="0.95"/>
<rect x="635.34" y="313.87" width="5.45" height="5.45" fill="none" stroke="#ff2020" stroke-width="0.95"/>
<rect x="637.77" y="315.93" width="5.45" height="5.45" fill="none" stroke="#ff2020" stroke-width="0.95"/>
<rect x="640.57" y="316.74" width="5.45" height="5.45" fill="none" stroke="#ff2020" stroke-width="0.95"/>
<rect x="643.03" y="318.31" width="5.45" height="5.45" fill="none" stroke="#ff2020" stroke-width="0.95"/>
<rect x="645.48" y="319.82" width="5.45" height="5.45" fill="none" stroke="#ff2020" stroke-width="0.95"/>
<rect x="648.61" y="322.66" width="5.45" height="5.45" fill="none" stroke="#ff2020" stroke-width="0.95"/>
<rect x="650.83" y="322.61" width="5.45" height="5.45" fill="none" stroke="#ff2020" stroke-width="0.95"/>
<polyline points="525.33,319.79 527.48,316.79 530.24,315.2 532.74,312.03 535.04,310.29 537.63,307.08 540.89,303.97 543.42,302.76 545.95,299.97 548.15,296.87 550.79,295 553.52,291.84 556.7,289.95 559.29,286.79 561.52,284.7 564.12,281.47 566.68,278.71 569.27,277.53 572.35,274.42 574.59,271.43 576.88,268.79 580.05,267.22 582.32,264.56 585.27,261.88 587.79,259.46 590.19,263.11 592.77,266.48 595.8,270.52 598.06,274.64 600.99,277.78 603.12,280.99 605.95,284.23 608.77,287.51 611.56,290.52 613.96,293.09 616.91,296.15 619.24,298.93 622.3,301.44 625.03,304.52 627.3,306.42 629.66,309.49 632.92,311.25 635.37,313.77 638.04,315.01 640.72,317.71 643.27,319.24 645.88,321.6 648.53,323.07 650.69,323.65 653.66,325.91" fill="none" stroke="#ff8000" stroke-width="0.8"/>
<circle cx="525.33" cy="319.79" r="2.73" fill="none" stroke="#ff8000" stroke-width="0.95"/>
<circle cx="527.48" cy="316.79" r="2.73" fill="none" stroke="#ff8000" stroke-width="0.95"/>
<circle cx="530.24" cy="315.2" r="2.73" fill="none" stroke="#ff8000" stroke-width="0.95"/>
<circle cx="532.74" cy="312.03" r="2.73" fill="none" stroke="#ff8000" stroke-width="0.95"/>
<circle cx="535.04" cy="310.29" r="2.73" fill="none" stroke="#ff8000" stroke-width="0.95"/>
<circle cx="537.63" cy="307.08" r="2.73" fill="none" stroke="#ff8000" stroke-width="0.95"/>
<circle cx="540.89" cy="303.97" r="2.73" fill="none" stroke="#ff8000" stroke-width="0.95"/>
<circle cx="543.42" cy="302.76" r="2.73" fill="none" stroke="#ff8000" stroke-width="0.95"/>
<circle cx="545.95" cy="299.97" r="2.73" fill="none" stroke="#ff8000" stroke-width="0.95"/>
<circle cx="548.15" cy="296.87" r="2.73" fill="none" stroke="#ff8000" stroke-width="0.95"/>
<circle cx="550.79" cy="295" r="2.73" fill="none" stroke="#ff8000" stroke-width="0.95"/>
<circle cx="553.52" cy="291.84" r="2.73" fill="none" stroke="#ff8000" stroke-width="0.95"/>
<circle cx="556.7" cy="289.95" r="2.73" fill="none" stroke="#ff8000" stroke-width="0.95"/>
<circle cx="559.29" cy="286.79" r="2.73" fill="none" stroke="#ff8000" stroke-width="0.95"/>
<circle cx="561.52" cy="284.7" r="2.73" fill="none" stroke="#ff8000" stroke-width="0.95"/>
<circle cx="564.12" cy="281.47" r="2.73" fill="none" stroke="#ff8000" stroke-width="0.95"/>
<circle cx="566.68" cy="278.71" r="2.73" fill="none" stroke="#ff8000" stroke-width="0.95"/>
<circle cx="569.27" cy="277.53" r="2.73" fill="none" stroke="#ff8000" stroke-width="0.95"/>
<circle cx="572.35" cy="274.42" r="2.73" fill="none" stroke="#ff8000" stroke-width="0.95"/>
<circle cx="574.59" cy="271.43" r="2.73" fill="none" stroke="#ff8000" stroke-width="0.95"/>
<circle cx="576.88" cy="268.79" r="2.73" fill="none" stroke="#ff8000" stroke-width="0.95"/>
<circle cx="580.05" cy="267.22" r="2.73" fill="none" stroke="#ff8000" stroke-width="0.95"/>
<circle cx="582.32" cy="264.56" r="2.73" fill="none" stroke="#ff8000" stroke-width="0.95"/>
<circle cx="585.27" cy="261.88" r="2.73" fill="none" stroke="#ff8000" stroke-width="0.95"/>
<circle cx="587.79" cy="259.46" r="2.73" fill="none" stroke="#ff8000" stroke-width="0.95"/>
<circle cx="590.19" cy="263.11" r="2.73" fill="none" stroke="#ff8000" stroke-width="0.95"/>
<circle cx="592.77" cy="266.48" r="2.73" fill="none" stroke="#ff8000" stroke-width="0.95"/>
<circle cx="595.8" cy="270.52" r="2.73" fill="none" stroke="#ff8000" stroke-width="0.95"/>
<circle cx="598.06" cy="274.64" r="2.73" fill="none" stroke="#ff8000" stroke-width="0.95"/>
<circle cx="600.99" cy="277.78" r="2.73" fill="none" stroke="#ff8000" stroke-width="0.95"/>
<circle cx="603.12" cy="280.99" r="2.73" fill="none" stroke="#ff8000" stroke-width="0.95"/>
<circle cx="605.95" cy="284.23" r="2.73" fill="none" stroke="#ff8000" stroke-width="0.95"/>
<circle cx="608.77" cy="287.51" r="2.73" fill="none" stroke="#ff8000" stroke-width="0.95"/>
<circle cx="611.56" cy="290.52" r="2.73" fill="none" stroke="#ff8000" stroke-width="0.95"/>
<circle cx="613.96" cy="293.09" r="2.73" fill="none" stroke="#ff8000" stroke-width="0.95"/>
<circle cx="616.91" cy="296.15" r="2.73" fill="none" stroke="#ff8000" stroke-width="0.95"/>
<circle cx="619.24" cy="298.93" r="2.73" fill="none" stroke="#ff8000" stroke-width="0.95"/>
<circle cx="622.3" cy="301.44" r="2.73" fill="none" stroke="#ff8000" stroke-width="0.95"/>
<circle cx="625.03" cy="304.52" r="2.73" fill="none" stroke="#ff8000" stroke-width="0.95"/>
<circle cx="627.3" cy="306.42" r="2.73" fill="none" stroke="#ff8000" stroke-width="0.95"/>
<circle cx="629.66" cy="309.49" r="2.73" fill="none" stroke="#ff8000" stroke-width="0.95"/>
<circle cx="632.92" cy="311.25" r="2.73" fill="none" stroke="#ff8000" stroke-width="0.95"/>
<circle cx="635.37" cy="313.77" r="2.73" fill="none" stroke="#ff8000" stroke-width="0.95"/>
<circle cx="638.04" cy="315.01" r="2.73" fill="none" stroke="#ff8000" stroke-width="0.95"/>
<circle cx="640.72" cy="317.71" r="2.73" fill="none" stroke="#ff8000" stroke-width="0.95"/>
<circle cx="643.27" cy="319.24" r="2.73" fill="none" stroke="#ff8000" stroke-width="0.95"/>
<circle cx="645.88" cy="321.6" r="2.73" fill="none" stroke="#ff8000" stroke-width="0.95"/>
<circle cx="648.53" cy="323.07" r="2.73" fill="none" stroke="#ff8000" stroke-width="0.95"/>
<circle cx="650.69" cy="323.65" r="2.73" fill="none" stroke="#ff8000" stroke-width="0.95"/>
<circle cx="653.66" cy="325.91" r="2.73" fill="none" stroke="#ff8000" stroke-width="0.95"/>
<polyline points="524.28,319.38 527.22,315.82 529.7,313.58 531.98,310.91 534.81,308.45 537.32,305.69 540.15,303.71 542.88,301.52 545.2,299.49 547.62,296.17 550.46,293.64 552.94,291.79 555.76,287.99 558.56,285.55 561.12,283.41 563.76,281.88 566.57,278.48 569.18,276.31 571.44,272.98 574.23,271.13 577.13,269.25 579.47,265.73 582.31,262.64 584.29,261.01 587.31,257.81 589.97,261.98 592.4,264.96 594.93,268.45 598.17,272.31 600.8,276.88 603.15,279.1 606.1,282.52 608.29,285.28 611.38,288.6 613.47,291.4 615.98,294.39 618.88,296.62 621.79,300.24 623.82,302.41 626.67,305.64 629.72,307.11 631.95,309.31 635.17,311.65 637.5,314.07 640.17,316.32 642.9,317.33 645.55,319.41 648.01,321.03 650.46,322.81 653.24,324.02" fill="none" stroke="#008000" stroke-width="0.8"/>
<path d="M524.28,316.81 L527.37,321.94 L521.18,321.94 Z" fill="none" stroke="#008000" stroke-width="0.95" stroke-linejoin="miter"/>
<path d="M527.22,313.25 L530.31,318.38 L524.13,318.38 Z" fill="none" stroke="#008000" stroke-width="0.95" stroke-linejoin="miter"/>
<path d="M529.7,311.02 L532.8,316.15 L526.61,316.15 Z" fill="none" stroke="#008000" stroke-width="0.95" stroke-linejoin="miter"/>
<path d="M531.98,308.34 L535.08,313.47 L528.89,313.47 Z" fill="none" stroke="#008000" stroke-width="0.95" stroke-linejoin="miter"/>
<path d="M534.81,305.89 L537.9,311.02 L531.71,311.02 Z" fill="none" stroke="#008000" stroke-width="0.95" stroke-linejoin="miter"/>
<path d="M537.32,303.13 L540.41,308.25 L534.23,308.25 Z" fill="none" stroke="#008000" stroke-width="0.95" stroke-linejoin="miter"/>
<path d="M540.15,301.15 L543.24,306.28 L537.06,306.28 Z" fill="none" stroke="#008000" stroke-width="0.95" stroke-linejoin="miter"/>
<path d="M542.88,298.96 L545.98,304.08 L539.79,304.08 Z" fill="none" stroke="#008000" stroke-width="0.95" stroke-linejoin="miter"/>
<path d="M545.2,296.93 L548.29,302.06 L542.1,302.06 Z" fill="none" stroke="#008000" stroke-width="0.95" stroke-linejoin="miter"/>
<path d="M547.62,293.6 L550.71,298.73 L544.53,298.73 Z" fill="none" stroke="#008000" stroke-width="0.95" stroke-linejoin="miter"/>
<path d="M550.46,291.08 L553.55,296.21 L547.36,296.21 Z" fill="none" stroke="#008000" stroke-width="0.95" stroke-linejoin="miter"/>
<path d="M552.94,289.23 L556.03,294.35 L549.85,294.35 Z" fill="none" stroke="#008000" stroke-width="0.95" stroke-linejoin="miter"/>
<path d="M555.76,285.42 L558.85,290.55 L552.67,290.55 Z" fill="none" stroke="#008000" stroke-width="0.95" stroke-linejoin="miter"/>
<path d="M558.56,282.99 L561.66,288.12 L555.47,288.12 Z" fill="none" stroke="#008000" stroke-width="0.95" stroke-linejoin="miter"/>
<path d="M561.12,280.85 L564.22,285.98 L558.03,285.98 Z" fill="none" stroke="#008000" stroke-width="0.95" stroke-linejoin="miter"/>
<path d="M563.76,279.31 L566.86,284.44 L560.67,284.44 Z" fill="none" stroke="#008000" stroke-width="0.95" stroke-linejoin="miter"/>
<path d="M566.57,275.92 L569.66,281.05 L563.48,281.05 Z" fill="none" stroke="#008000" stroke-width="0.95" stroke-linejoin="miter"/>
<path d="M569.18,273.75 L572.27,278.88 L566.08,278.88 Z" fill="none" stroke="#008000" stroke-width="0.95" stroke-linejoin="miter"/>
<path d="M571.44,270.42 L574.53,275.55 L568.34,275.55 Z" fill="none" stroke="#008000" stroke-width="0.95" stroke-linejoin="miter"/>
<path d="M574.23,268.56 L577.32,273.69 L571.14,273.69 Z" fill="none" stroke="#008000" stroke-width="0.95" stroke-linejoin="miter"/>
<path d="M577.13,266.68 L580.22,271.81 L574.04,271.81 Z" fill="none" stroke="#008000" stroke-width="0.95" stroke-linejoin="miter"/>
<path d="M579.47,263.17 L582.56,268.29 L576.37,268.29 Z" fill="none" stroke="#008000" stroke-width="0.95" stroke-linejoin="miter"/>
<path d="M582.31,260.08 L585.4,265.2 L579.22,265.2 Z" fill="none" stroke="#008000" stroke-width="0.95" stroke-linejoin="miter"/>
<path d="M584.29,258.45 L587.39,263.58 L581.2,263.58 Z" fill="none" stroke="#008000" stroke-width="0.95" stroke-linejoin="miter"/>
<path d="M587.31,255.24 L590.4,260.37 L584.22,260.37 Z" fill="none" stroke="#008000" stroke-width="0.95" stroke-linejoin="miter"/>
<path d="M589.97,259.42 L593.06,264.54 L586.87,264.54 Z" fill="none" stroke="#008000" stroke-width="0.95" stroke-linejoin="miter"/>
<path d="M592.4,262.4 L595.5,267.52 L589.31,267.52 Z" fill="none" stroke="#008000" stroke-width="0.95" stroke-linejoin="miter"/>
<path d="M594.93,265.89 L598.02,271.02 L591.83,271.02 Z" fill="none" stroke="#008000" stroke-width="0.95" stroke-linejoin="miter"/>
<path d="M598.17,269.74 L601.26,274.87 L595.07,274.87 Z" fill="none" stroke="#008000" stroke-width="0.95" stroke-linejoin="miter"/>
<path d="M600.8,274.31 L603.89,279.44 L597.71,279.44 Z" fill="none" stroke="#008000" stroke-width="0.95" stroke-linejoin="miter"/>
<path d="M603.15,276.53 L606.24,281.66 L600.06,281.66 Z" fill="none" stroke="#008000" stroke-width="0.95" stroke-linejoin="miter"/>
<path d="M606.1,279.96 L609.19,285.08 L603.01,285.08 Z" fill="none" stroke="#008000" stroke-width="0.95" stroke-linejoin="miter"/>
<path d="M608.29,282.72 L611.38,287.84 L605.2,287.84 Z" fill="none" stroke="#008000" stroke-width="0.95" stroke-linejoin="miter"/>
<path d="M611.38,286.04 L614.48,291.16 L608.29,291.16 Z" fill="none" stroke="#008000" stroke-width="0.95" stroke-linejoin="miter"/>
<path d="M613.47,288.83 L616.56,293.96 L610.38,293.96 Z" fill="none" stroke="#008000" stroke-width="0.95" stroke-linejoin="miter"/>
<path d="M615.98,291.82 L619.07,296.95 L612.89,296.95 Z" fill="none" stroke="#008000" stroke-width="0.95" stroke-linejoin="miter"/>
<path d="M618.88,294.06 L621.97,299.19 L615.79,299.19 Z" fill="none" stroke="#008000" stroke-width="0.95" stroke-linejoin="miter"/>
<path d="M621.79,297.67 L624.88,302.8 L618.7,302.8 Z" fill="none" stroke="#008000" stroke-width="0.95" stroke-linejoin="miter"/>
<path d="M623.82,299.85 L626.91,304.98 L620.72,304.98 Z" fill="none" stroke="#008000" stroke-width="0.95" stroke-linejoin="miter"/>
<path d="M626.67,303.07 L629.76,308.2 L623.58,308.2 Z" fill="none" stroke="#008000" stroke-width="0.95" stroke-linejoin="miter"/>
<path d="M629.72,304.55 L632.81,309.68 L626.62,309.68 Z" fill="none" stroke="#008000" stroke-width="0.95" stroke-linejoin="miter"/>
<path d="M631.95,306.74 L635.04,311.87 L628.85,311.87 Z" fill="none" stroke="#008000" stroke-width="0.95" stroke-linejoin="miter"/>
<path d="M635.17,309.09 L638.26,314.22 L632.07,314.22 Z" fill="none" stroke="#008000" stroke-width="0.95" stroke-linejoin="miter"/>
<path d="M637.5,311.51 L640.6,316.63 L634.41,316.63 Z" fill="none" stroke="#008000" stroke-width="0.95" stroke-linejoin="miter"/>
<path d="M640.17,313.76 L643.27,318.89 L637.08,318.89 Z" fill="none" stroke="#008000" stroke-width="0.95" stroke-linejoin="miter"/>
<path d="M642.9,314.77 L645.99,319.89 L639.8,319.89 Z" fill="none" stroke="#008000" stroke-width="0.95" stroke-linejoin="miter"/>
<path d="M645.55,316.85 L648.64,321.97 L642.46,321.97 Z" fill="none" stroke="#008000" stroke-width="0.95" stroke-linejoin="miter"/>
<path d="M648.01,318.47 L651.1,323.59 L644.92,323.59 Z" fill="none" stroke="#008000" stroke-width="0.95" stroke-linejoin="miter"/>
<path d="M650.46,320.25 L653.56,325.38 L647.37,325.38 Z" fill="none" stroke="#008000" stroke-width="0.95" stroke-linejoin="miter"/>
<path d="M653.24,321.45 L656.33,326.58 L650.15,326.58 Z" fill="none" stroke="#008000" stroke-width="0.95" stroke-linejoin="miter"/>
<polyline points="524.54,318.99 526.58,315.91 529.53,314.45 532.49,311.33 534.4,309.17 537.35,306.32 540.19,303.88 542.62,301.79 545.16,298.43 548.14,295.59 550.31,294.08 552.74,291.56 555.86,288.38 558.14,286.41 561.26,282.86 563.52,280.98 566.15,278.1 568.49,275.98 571.63,272.62 573.78,271.3 576.84,268.52 578.84,266.08 582.22,264 584.61,259.95 587.33,257.69 589.82,261.56 592.51,263.97 594.82,268.93 597.35,272.16 600.2,275.15 603.01,278.23 605.24,281.81 607.85,284.34 610.9,288.48 613.78,290.33 616.07,293.38 618.84,296.42 621.76,298.99 623.69,302.16 626.41,304.63 629.34,307.66 632.02,309.53 634.43,311.55 637.06,313.99 639.91,315.05 642.33,317.22 645.37,318.69 647.99,321.02 650.13,322.51 652.78,323.12" fill="none" stroke="#0000ff" stroke-width="0.8"/>
<path d="M524.54,321.55 L527.63,316.42 L521.44,316.42 Z" fill="none" stroke="#0000ff" stroke-width="0.95" stroke-linejoin="miter"/>
<path d="M526.58,318.48 L529.67,313.35 L523.49,313.35 Z" fill="none" stroke="#0000ff" stroke-width="0.95" stroke-linejoin="miter"/>
<path d="M529.53,317.01 L532.62,311.88 L526.44,311.88 Z" fill="none" stroke="#0000ff" stroke-width="0.95" stroke-linejoin="miter"/>
<path d="M532.49,313.89 L535.58,308.76 L529.4,308.76 Z" fill="none" stroke="#0000ff" stroke-width="0.95" stroke-linejoin="miter"/>
<path d="M534.4,311.73 L537.5,306.61 L531.31,306.61 Z" fill="none" stroke="#0000ff" stroke-width="0.95" stroke-linejoin="miter"/>
<path d="M537.35,308.88 L540.44,303.75 L534.26,303.75 Z" fill="none" stroke="#0000ff" stroke-width="0.95" stroke-linejoin="miter"/>
<path d="M540.19,306.44 L543.28,301.31 L537.09,301.31 Z" fill="none" stroke="#0000ff" stroke-width="0.95" stroke-linejoin="miter"/>
<path d="M542.62,304.36 L545.71,299.23 L539.53,299.23 Z" fill="none" stroke="#0000ff" stroke-width="0.95" stroke-linejoin="miter"/>
<path d="M545.16,301 L548.25,295.87 L542.06,295.87 Z" fill="none" stroke="#0000ff" stroke-width="0.95" stroke-linejoin="miter"/>
<path d="M548.14,298.16 L551.23,293.03 L545.05,293.03 Z" fill="none" stroke="#0000ff" stroke-width="0.95" stroke-linejoin="miter"/>
<path d="M550.31,296.64 L553.4,291.51 L547.22,291.51 Z" fill="none" stroke="#0000ff" stroke-width="0.95" stroke-linejoin="miter"/>
<path d="M552.74,294.12 L555.83,288.99 L549.65,288.99 Z" fill="none" stroke="#0000ff" stroke-width="0.95" stroke-linejoin="miter"/>
<path d="M555.86,290.95 L558.95,285.82 L552.76,285.82 Z" fill="none" stroke="#0000ff" stroke-width="0.95" stroke-linejoin="miter"/>
<path d="M558.14,288.97 L561.23,283.85 L555.05,283.85 Z" fill="none" stroke="#0000ff" stroke-width="0.95" stroke-linejoin="miter"/>
<path d="M561.26,285.42 L564.35,280.3 L558.16,280.3 Z" fill="none" stroke="#0000ff" stroke-width="0.95" stroke-linejoin="miter"/>
<path d="M563.52,283.54 L566.62,278.42 L560.43,278.42 Z" fill="none" stroke="#0000ff" stroke-width="0.95" stroke-linejoin="miter"/>
<path d="M566.15,280.67 L569.24,275.54 L563.06,275.54 Z" fill="none" stroke="#0000ff" stroke-width="0.95" stroke-linejoin="miter"/>
<path d="M568.49,278.55 L571.58,273.42 L565.4,273.42 Z" fill="none" stroke="#0000ff" stroke-width="0.95" stroke-linejoin="miter"/>
<path d="M571.63,275.19 L574.72,270.06 L568.54,270.06 Z" fill="none" stroke="#0000ff" stroke-width="0.95" stroke-linejoin="miter"/>
<path d="M573.78,273.86 L576.87,268.73 L570.68,268.73 Z" fill="none" stroke="#0000ff" stroke-width="0.95" stroke-linejoin="miter"/>
<path d="M576.84,271.08 L579.93,265.95 L573.75,265.95 Z" fill="none" stroke="#0000ff" stroke-width="0.95" stroke-linejoin="miter"/>
<path d="M578.84,268.65 L581.93,263.52 L575.75,263.52 Z" fill="none" stroke="#0000ff" stroke-width="0.95" stroke-linejoin="miter"/>
<path d="M582.22,266.56 L585.31,261.43 L579.12,261.43 Z" fill="none" stroke="#0000ff" stroke-width="0.95" stroke-linejoin="miter"/>
<path d="M584.61,262.51 L587.7,257.38 L581.52,257.38 Z" fill="none" stroke="#0000ff" stroke-width="0.95" stroke-linejoin="miter"/>
<path d="M587.33,260.25 L590.43,255.13 L584.24,255.13 Z" fill="none" stroke="#0000ff" stroke-width="0.95" stroke-linejoin="miter"/>
<path d="M589.82,264.12 L592.91,259 L586.73,259 Z" fill="none" stroke="#0000ff" stroke-width="0.95" stroke-linejoin="miter"/>
<path d="M592.51,266.53 L595.61,261.4 L589.42,261.4 Z" fill="none" stroke="#0000ff" stroke-width="0.95" stroke-linejoin="miter"/>
<path d="M594.82,271.5 L597.91,266.37 L591.73,266.37 Z" fill="none" stroke="#0000ff" stroke-width="0.95" stroke-linejoin="miter"/>
<path d="M597.35,274.72 L600.44,269.59 L594.25,269.59 Z" fill="none" stroke="#0000ff" stroke-width="0.95" stroke-linejoin="miter"/>
<path d="M600.2,277.72 L603.29,272.59 L597.11,272.59 Z" fill="none" stroke="#0000ff" stroke-width="0.95" stroke-linejoin="miter"/>
<path d="M603.01,280.79 L606.1,275.67 L599.92,275.67 Z" fill="none" stroke="#0000ff" stroke-width="0.95" stroke-linejoin="miter"/>
<path d="M605.24,284.38 L608.33,279.25 L602.15,279.25 Z" fill="none" stroke="#0000ff" stroke-width="0.95" stroke-linejoin="miter"/>
<path d="M607.85,286.91 L610.95,281.78 L604.76,281.78 Z" fill="none" stroke="#0000ff" stroke-width="0.95" stroke-linejoin="miter"/>
<path d="M610.9,291.05 L613.99,285.92 L607.8,285.92 Z" fill="none" stroke="#0000ff" stroke-width="0.95" stroke-linejoin="miter"/>
<path d="M613.78,292.89 L616.87,287.76 L610.69,287.76 Z" fill="none" stroke="#0000ff" stroke-width="0.95" stroke-linejoin="miter"/>
<path d="M616.07,295.94 L619.16,290.81 L612.97,290.81 Z" fill="none" stroke="#0000ff" stroke-width="0.95" stroke-linejoin="miter"/>
<path d="M618.84,298.98 L621.94,293.85 L615.75,293.85 Z" fill="none" stroke="#0000ff" stroke-width="0.95" stroke-linejoin="miter"/>
<path d="M621.76,301.56 L624.85,296.43 L618.66,296.43 Z" fill="none" stroke="#0000ff" stroke-width="0.95" stroke-linejoin="miter"/>
<path d="M623.69,304.72 L626.78,299.59 L620.6,299.59 Z" fill="none" stroke="#0000ff" stroke-width="0.95" stroke-linejoin="miter"/>
<path d="M626.41,307.19 L629.5,302.07 L623.32,302.07 Z" fill="none" stroke="#0000ff" stroke-width="0.95" stroke-linejoin="miter"/>
<path d="M629.34,310.22 L632.43,305.09 L626.24,305.09 Z" fill="none" stroke="#0000ff" stroke-width="0.95" stroke-linejoin="miter"/>
<path d="M632.02,312.1 L635.11,306.97 L628.92,306.97 Z" fill="none" stroke="#0000ff" stroke-width="0.95" stroke-linejoin="miter"/>
<path d="M634.43,314.11 L637.52,308.98 L631.33,308.98 Z" fill="none" stroke="#0000ff" stroke-width="0.95" stroke-linejoin="miter"/>
<path d="M637.06,316.55 L640.15,311.43 L633.97,311.43 Z" fill="none" stroke="#0000ff" stroke-width="0.95" stroke-linejoin="miter"/>
<path d="M639.91,317.61 L643,312.49 L636.82,312.49 Z" fill="none" stroke="#0000ff" stroke-width="0.95" stroke-linejoin="miter"/>
<path d="M642.33,319.78 L645.42,314.65 L639.24,314.65 Z" fill="none" stroke="#0000ff" stroke-width="0.95" stroke-linejoin="miter"/>
<path d="M645.37,321.26 L648.46,316.13 L642.28,316.13 Z" fill="none" stroke="#0000ff" stroke-width="0.95" stroke-linejoin="miter"/>
<path d="M647.99,323.58 L651.09,318.46 L644.9,318.46 Z" fill="none" stroke="#0000ff" stroke-width="0.95" stroke-linejoin="miter"/>
<path d="M650.13,325.08 L653.23,319.95 L647.04,319.95 Z" fill="none" stroke="#0000ff" stroke-width="0.95" stroke-linejoin="miter"/>
<path d="M652.78,325.68 L655.87,320.56 L649.69,320.56 Z" fill="none" stroke="#0000ff" stroke-width="0.95" stroke-linejoin="miter"/>
<line x1="603.6" y1="227.4" x2="617.9" y2="227.4" stroke="#ff2020" stroke-width="1"/>
<rect x="607.55" y="224.45" width="5.9" height="5.9" fill="none" stroke="#ff2020" stroke-width="1.1"/>
<text transform="translate(620.8,230.3) scale(1,0.98)" font-size="9.3" fill="#222" stroke="#222" stroke-width="0.18">1<tspan font-size="5.9" dy="-3.7">st</tspan><tspan dy="3.7"> operation</tspan></text>
<line x1="603.6" y1="240.25" x2="617.9" y2="240.25" stroke="#ff8000" stroke-width="1"/>
<circle cx="610.5" cy="240.25" r="2.95" fill="none" stroke="#ff8000" stroke-width="1.1"/>
<text transform="translate(620.8,243.15) scale(1,0.98)" font-size="9.3" fill="#222" stroke="#222" stroke-width="0.18">2<tspan font-size="5.9" dy="-3.7">nd</tspan><tspan dy="3.7"> operation</tspan></text>
<line x1="603.6" y1="253.1" x2="617.9" y2="253.1" stroke="#008000" stroke-width="1"/>
<path d="M610.5,250.4 L613.76,255.8 L607.24,255.8 Z" fill="none" stroke="#008000" stroke-width="1.1" stroke-linejoin="miter"/>
<text transform="translate(620.8,256) scale(1,0.98)" font-size="9.3" fill="#222" stroke="#222" stroke-width="0.18">3<tspan font-size="5.9" dy="-3.7">rd</tspan><tspan dy="3.7"> operation</tspan></text>
<line x1="603.6" y1="265.95" x2="617.9" y2="265.95" stroke="#0000ff" stroke-width="1"/>
<path d="M610.5,268.65 L613.76,263.25 L607.24,263.25 Z" fill="none" stroke="#0000ff" stroke-width="1.1" stroke-linejoin="miter"/>
<text transform="translate(620.8,268.85) scale(1,0.98)" font-size="9.3" fill="#222" stroke="#222" stroke-width="0.18">4<tspan font-size="5.9" dy="-3.7">th</tspan><tspan dy="3.7"> operation</tspan></text>
</svg></body></html>
